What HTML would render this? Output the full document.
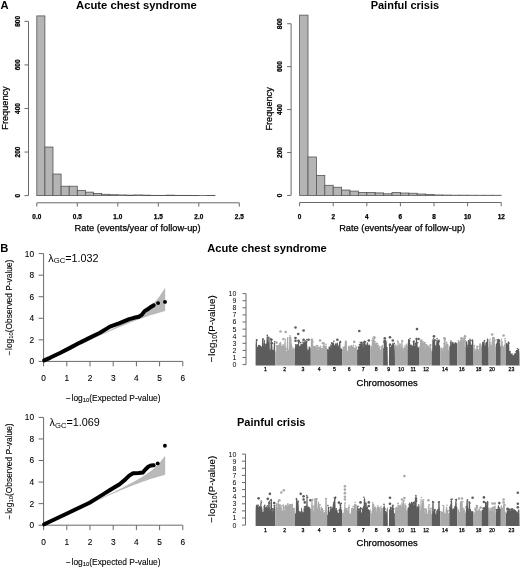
<!DOCTYPE html>
<html><head><meta charset="utf-8"><style>
html,body{margin:0;padding:0;background:#fff;}
svg{display:block;filter:grayscale(1) blur(0.3px);}
text{font-family:"Liberation Sans", sans-serif;}
</style></head><body>
<svg width="520" height="567" viewBox="0 0 520 567" font-family='"Liberation Sans", sans-serif'>
<rect width="520" height="567" fill="#fff"/>
<text x="0.60" y="9.20" font-size="11.2" font-weight="bold" text-anchor="start" fill="#000">A</text>
<text x="136.40" y="8.60" font-size="11.25" font-weight="bold" text-anchor="middle" fill="#000">Acute chest syndrome</text>
<path d="M28.5,21.36V195.60" stroke="#6a6a6a" stroke-width="1.0" fill="none"/>
<path d="M24.5,195.60H28.5" stroke="#6a6a6a" stroke-width="1.0"/>
<text transform="translate(19.80,195.60) rotate(-90)" font-size="6.5" font-weight="bold" text-anchor="middle" fill="#000" stroke="#000" stroke-width="0.25">0</text>
<path d="M24.5,152.04H28.5" stroke="#6a6a6a" stroke-width="1.0"/>
<text transform="translate(19.80,152.04) rotate(-90)" font-size="6.5" font-weight="bold" text-anchor="middle" fill="#000" stroke="#000" stroke-width="0.25">200</text>
<path d="M24.5,108.48H28.5" stroke="#6a6a6a" stroke-width="1.0"/>
<text transform="translate(19.80,108.48) rotate(-90)" font-size="6.5" font-weight="bold" text-anchor="middle" fill="#000" stroke="#000" stroke-width="0.25">400</text>
<path d="M24.5,64.92H28.5" stroke="#6a6a6a" stroke-width="1.0"/>
<text transform="translate(19.80,64.92) rotate(-90)" font-size="6.5" font-weight="bold" text-anchor="middle" fill="#000" stroke="#000" stroke-width="0.25">600</text>
<path d="M24.5,21.36H28.5" stroke="#6a6a6a" stroke-width="1.0"/>
<text transform="translate(19.80,21.36) rotate(-90)" font-size="6.5" font-weight="bold" text-anchor="middle" fill="#000" stroke="#000" stroke-width="0.25">800</text>
<text transform="translate(8.20,108.00) rotate(-90)" font-size="9.2" text-anchor="middle" fill="#000" stroke="#000" stroke-width="0.25">Frequency</text>
<g fill="#b4b4b4" stroke="#555" stroke-width="0.8"><rect x="36.80" y="15.91" width="8.10" height="179.69"/><rect x="44.90" y="147.03" width="8.10" height="48.57"/><rect x="53.00" y="174.04" width="8.10" height="21.56"/><rect x="61.10" y="186.23" width="8.10" height="9.37"/><rect x="69.20" y="186.23" width="8.10" height="9.37"/><rect x="77.30" y="190.37" width="8.10" height="5.23"/><rect x="85.40" y="192.12" width="8.10" height="3.48"/><rect x="93.50" y="193.42" width="8.10" height="2.18"/><rect x="101.60" y="194.29" width="8.10" height="1.31"/><rect x="109.70" y="194.73" width="8.10" height="0.87"/><rect x="117.80" y="194.95" width="8.10" height="0.65"/><rect x="125.90" y="195.16" width="8.10" height="0.44"/><rect x="134.00" y="194.95" width="8.10" height="0.65"/><rect x="142.10" y="195.16" width="8.10" height="0.44"/><rect x="150.20" y="195.38" width="8.10" height="0.22"/><rect x="158.30" y="195.38" width="8.10" height="0.22"/><rect x="166.40" y="195.16" width="8.10" height="0.44"/><rect x="174.50" y="195.38" width="8.10" height="0.22"/><rect x="182.60" y="195.38" width="8.10" height="0.22"/><rect x="190.70" y="195.47" width="8.10" height="0.13"/><rect x="198.80" y="195.43" width="8.10" height="0.17"/><rect x="206.90" y="195.47" width="8.10" height="0.13"/></g>
<path d="M36.80,202.8H239.30" stroke="#6a6a6a" stroke-width="1.0"/>
<path d="M36.80,202.8V206.60000000000002" stroke="#6a6a6a" stroke-width="1.0"/>
<text x="36.80" y="218.50" font-size="6.4" font-weight="bold" text-anchor="middle" fill="#000" stroke="#000" stroke-width="0.25">0.0</text>
<path d="M77.30,202.8V206.60000000000002" stroke="#6a6a6a" stroke-width="1.0"/>
<text x="77.30" y="218.50" font-size="6.4" font-weight="bold" text-anchor="middle" fill="#000" stroke="#000" stroke-width="0.25">0.5</text>
<path d="M117.80,202.8V206.60000000000002" stroke="#6a6a6a" stroke-width="1.0"/>
<text x="117.80" y="218.50" font-size="6.4" font-weight="bold" text-anchor="middle" fill="#000" stroke="#000" stroke-width="0.25">1.0</text>
<path d="M158.30,202.8V206.60000000000002" stroke="#6a6a6a" stroke-width="1.0"/>
<text x="158.30" y="218.50" font-size="6.4" font-weight="bold" text-anchor="middle" fill="#000" stroke="#000" stroke-width="0.25">1.5</text>
<path d="M198.80,202.8V206.60000000000002" stroke="#6a6a6a" stroke-width="1.0"/>
<text x="198.80" y="218.50" font-size="6.4" font-weight="bold" text-anchor="middle" fill="#000" stroke="#000" stroke-width="0.25">2.0</text>
<path d="M239.30,202.8V206.60000000000002" stroke="#6a6a6a" stroke-width="1.0"/>
<text x="239.30" y="218.50" font-size="6.4" font-weight="bold" text-anchor="middle" fill="#000" stroke="#000" stroke-width="0.25">2.5</text>
<text x="74.60" y="231.20" font-size="9.25" text-anchor="start" fill="#000" stroke="#000" stroke-width="0.25">Rate (events/year of follow-up)</text>
<text x="404.90" y="8.60" font-size="11.0" font-weight="bold" text-anchor="middle" fill="#000">Painful crisis</text>
<path d="M291.1,23.72V195.40" stroke="#6a6a6a" stroke-width="1.0" fill="none"/>
<path d="M287.1,195.40H291.1" stroke="#6a6a6a" stroke-width="1.0"/>
<text transform="translate(282.20,195.40) rotate(-90)" font-size="6.5" font-weight="bold" text-anchor="middle" fill="#000" stroke="#000" stroke-width="0.25">0</text>
<path d="M287.1,152.48H291.1" stroke="#6a6a6a" stroke-width="1.0"/>
<text transform="translate(282.20,152.48) rotate(-90)" font-size="6.5" font-weight="bold" text-anchor="middle" fill="#000" stroke="#000" stroke-width="0.25">200</text>
<path d="M287.1,109.56H291.1" stroke="#6a6a6a" stroke-width="1.0"/>
<text transform="translate(282.20,109.56) rotate(-90)" font-size="6.5" font-weight="bold" text-anchor="middle" fill="#000" stroke="#000" stroke-width="0.25">400</text>
<path d="M287.1,66.64H291.1" stroke="#6a6a6a" stroke-width="1.0"/>
<text transform="translate(282.20,66.64) rotate(-90)" font-size="6.5" font-weight="bold" text-anchor="middle" fill="#000" stroke="#000" stroke-width="0.25">600</text>
<path d="M287.1,23.72H291.1" stroke="#6a6a6a" stroke-width="1.0"/>
<text transform="translate(282.20,23.72) rotate(-90)" font-size="6.5" font-weight="bold" text-anchor="middle" fill="#000" stroke="#000" stroke-width="0.25">800</text>
<text transform="translate(272.20,108.90) rotate(-90)" font-size="9.2" text-anchor="middle" fill="#000" stroke="#000" stroke-width="0.25">Frequency</text>
<g fill="#b4b4b4" stroke="#555" stroke-width="0.8"><rect x="299.60" y="15.14" width="8.40" height="180.26"/><rect x="308.00" y="156.99" width="8.40" height="38.41"/><rect x="316.40" y="175.44" width="8.40" height="19.96"/><rect x="324.80" y="185.31" width="8.40" height="10.09"/><rect x="333.20" y="187.25" width="8.40" height="8.15"/><rect x="341.60" y="190.03" width="8.40" height="5.37"/><rect x="350.00" y="191.11" width="8.40" height="4.29"/><rect x="358.40" y="192.40" width="8.40" height="3.00"/><rect x="366.80" y="192.50" width="8.40" height="2.90"/><rect x="375.20" y="192.91" width="8.40" height="2.49"/><rect x="383.60" y="193.79" width="8.40" height="1.61"/><rect x="392.00" y="192.50" width="8.40" height="2.90"/><rect x="400.40" y="193.04" width="8.40" height="2.36"/><rect x="408.80" y="193.25" width="8.40" height="2.15"/><rect x="417.20" y="194.01" width="8.40" height="1.39"/><rect x="425.60" y="194.54" width="8.40" height="0.86"/><rect x="434.00" y="194.97" width="8.40" height="0.43"/><rect x="442.40" y="195.08" width="8.40" height="0.32"/><rect x="450.80" y="195.19" width="8.40" height="0.21"/><rect x="459.20" y="195.19" width="8.40" height="0.21"/><rect x="467.60" y="195.23" width="8.40" height="0.17"/><rect x="476.00" y="195.27" width="8.40" height="0.13"/><rect x="484.40" y="195.27" width="8.40" height="0.13"/><rect x="492.80" y="195.27" width="8.40" height="0.13"/></g>
<path d="M299.60,202.5H501.20" stroke="#6a6a6a" stroke-width="1.0"/>
<path d="M299.60,202.5V206.3" stroke="#6a6a6a" stroke-width="1.0"/>
<text x="299.60" y="218.50" font-size="6.4" font-weight="bold" text-anchor="middle" fill="#000" stroke="#000" stroke-width="0.25">0</text>
<path d="M333.20,202.5V206.3" stroke="#6a6a6a" stroke-width="1.0"/>
<text x="333.20" y="218.50" font-size="6.4" font-weight="bold" text-anchor="middle" fill="#000" stroke="#000" stroke-width="0.25">2</text>
<path d="M366.80,202.5V206.3" stroke="#6a6a6a" stroke-width="1.0"/>
<text x="366.80" y="218.50" font-size="6.4" font-weight="bold" text-anchor="middle" fill="#000" stroke="#000" stroke-width="0.25">4</text>
<path d="M400.40,202.5V206.3" stroke="#6a6a6a" stroke-width="1.0"/>
<text x="400.40" y="218.50" font-size="6.4" font-weight="bold" text-anchor="middle" fill="#000" stroke="#000" stroke-width="0.25">6</text>
<path d="M434.00,202.5V206.3" stroke="#6a6a6a" stroke-width="1.0"/>
<text x="434.00" y="218.50" font-size="6.4" font-weight="bold" text-anchor="middle" fill="#000" stroke="#000" stroke-width="0.25">8</text>
<path d="M467.60,202.5V206.3" stroke="#6a6a6a" stroke-width="1.0"/>
<text x="467.60" y="218.50" font-size="6.4" font-weight="bold" text-anchor="middle" fill="#000" stroke="#000" stroke-width="0.25">10</text>
<path d="M501.20,202.5V206.3" stroke="#6a6a6a" stroke-width="1.0"/>
<text x="501.20" y="218.50" font-size="6.4" font-weight="bold" text-anchor="middle" fill="#000" stroke="#000" stroke-width="0.25">12</text>
<text x="339.20" y="231.20" font-size="9.25" text-anchor="start" fill="#000" stroke="#000" stroke-width="0.25">Rate (events/year of follow-up)</text>
<text x="0.20" y="252.00" font-size="11.2" font-weight="bold" text-anchor="start" fill="#000">B</text>
<path d="M165.18,287.70L158.20,298.27L154.11,302.66L151.21,305.31L148.96,307.18L147.13,308.60L145.57,309.75L144.23,310.71L143.04,311.53L141.98,312.25L141.02,312.88L140.14,313.45L139.34,313.96L138.59,314.44L137.90,314.87L137.25,315.27L136.63,315.64L136.06,315.99L135.51,316.32L135.00,316.62L134.51,316.92L134.04,317.19L133.59,317.45L133.16,317.70L132.75,317.94L132.35,318.17L131.97,318.38L131.61,318.59L131.25,318.79L130.91,318.99L130.58,319.17L130.26,319.35L129.95,319.53L129.65,319.70L129.36,319.86L128.80,320.17L128.53,320.32L128.27,320.46L128.01,320.60L127.76,320.74L127.28,321.00L127.05,321.13L126.83,321.25L126.39,321.49L126.18,321.60L125.97,321.72L125.57,321.93L125.18,322.14L124.99,322.24L124.62,322.44L124.27,322.63L124.10,322.72L123.76,322.90L123.44,323.07L123.12,323.24L122.82,323.40L122.52,323.55L122.23,323.71L121.95,323.85L121.55,324.07L121.28,324.20L121.03,324.34L120.66,324.53L120.42,324.65L120.07,324.84L119.73,325.01L119.51,325.12L119.19,325.29L118.88,325.45L118.58,325.60L118.29,325.75L117.91,325.95L117.64,326.09L117.37,326.22L117.03,326.40L116.70,326.57L116.45,326.69L116.14,326.85L115.83,327.01L115.54,327.16L115.18,327.34L114.90,327.48L114.63,327.62L114.30,327.78L113.98,327.94L113.67,328.10L113.38,328.25L113.08,328.40L112.75,328.56L112.47,328.70L112.16,328.86L111.85,329.01L111.55,329.16L111.26,329.31L110.93,329.47L110.66,329.61L110.35,329.76L110.04,329.91L109.71,330.08L109.43,330.22L109.11,330.37L108.81,330.52L108.52,330.67L108.19,330.83L107.88,330.98L107.58,331.13L107.28,331.28L106.97,331.43L106.69,331.57L106.36,331.73L106.07,331.87L105.76,332.02L105.46,332.17L105.15,332.32L104.84,332.47L104.54,332.62L104.25,332.76L103.94,332.91L103.63,333.07L103.32,333.22L103.02,333.36L102.71,333.51L102.40,333.66L102.11,333.80L101.81,333.95L101.50,334.10L101.19,334.25L100.88,334.40L100.58,334.55L100.28,334.69L99.97,334.84L99.66,334.99L99.36,335.13L99.06,335.28L98.75,335.43L98.45,335.57L98.15,335.72L97.84,335.87L97.53,336.02L97.23,336.16L96.93,336.31L96.62,336.45L96.31,336.60L96.01,336.75L95.70,336.89L95.40,337.04L95.10,337.18L94.80,337.33L94.48,337.48L94.18,337.62L93.88,337.77L93.57,337.92L93.27,338.06L92.96,338.21L92.66,338.35L92.36,338.49L92.05,338.64L91.75,338.79L91.44,338.93L91.13,339.08L90.83,339.22L90.52,339.37L90.22,339.51L89.92,339.66L89.61,339.80L89.31,339.95L89.00,340.09L88.70,340.24L88.39,340.38L88.09,340.53L87.78,340.67L87.48,340.82L87.18,340.96L86.87,341.11L86.56,341.25L86.26,341.39L85.95,341.54L85.65,341.68L85.34,341.83L85.04,341.97L84.74,342.12L84.43,342.26L84.13,342.40L83.82,342.55L83.52,342.69L83.21,342.84L82.91,342.98L82.60,343.13L82.30,343.27L81.99,343.41L81.69,343.56L81.38,343.70L81.08,343.84L80.77,343.99L80.47,344.13L80.17,344.28L79.86,344.42L79.56,344.56L79.25,344.71L78.95,344.85L78.64,344.99L78.34,345.14L78.03,345.28L77.73,345.42L77.42,345.57L77.12,345.71L76.81,345.85L76.51,346.00L76.20,346.14L75.90,346.28L75.59,346.43L75.29,346.57L74.99,346.71L74.68,346.86L74.38,347.00L74.07,347.14L73.77,347.29L73.46,347.43L73.16,347.57L72.85,347.72L72.55,347.86L72.24,348.00L71.94,348.15L71.63,348.29L71.33,348.43L71.02,348.57L70.72,348.72L70.41,348.86L70.11,349.00L69.81,349.15L69.50,349.29L69.20,349.43L68.89,349.57L68.59,349.72L68.28,349.86L67.98,350.00L67.67,350.15L67.37,350.29L67.06,350.43L66.76,350.57L66.45,350.72L66.15,350.86L65.84,351.00L65.54,351.14L65.23,351.29L64.93,351.43L64.63,351.57L64.32,351.71L64.02,351.86L63.71,352.00L63.41,352.14L63.10,352.28L62.80,352.43L62.49,352.57L62.19,352.71L61.88,352.85L61.58,353.00L61.27,353.14L60.97,353.28L60.66,353.42L60.36,353.57L60.05,353.71L59.75,353.85L59.45,353.99L59.14,354.14L58.84,354.28L58.53,354.42L58.23,354.56L57.92,354.71L57.62,354.85L57.31,354.99L57.01,355.13L56.70,355.28L56.40,355.42L56.09,355.56L55.79,355.70L55.48,355.84L55.18,355.99L54.87,356.13L54.57,356.27L54.27,356.41L53.96,356.56L53.66,356.70L53.35,356.84L53.05,356.98L52.74,357.13L52.44,357.27L52.13,357.41L51.83,357.55L51.52,357.69L51.22,357.84L50.91,357.98L50.61,358.12L50.30,358.26L50.00,358.41L49.69,358.55L49.39,358.69L49.08,358.83L48.78,358.97L48.48,359.12L48.17,359.26L47.87,359.40L47.56,359.54L47.26,359.69L46.95,359.83L46.65,359.97L46.34,360.11L46.04,360.26L45.73,360.40L45.43,360.54L45.12,360.68L44.82,360.83L44.51,360.97L44.21,361.11L43.90,361.25L43.60,361.40L43.60,361.40L43.90,361.26L44.21,361.12L44.51,360.98L44.82,360.84L45.12,360.70L45.43,360.56L45.73,360.42L46.04,360.28L46.34,360.14L46.65,360.00L46.95,359.86L47.26,359.72L47.56,359.57L47.87,359.43L48.17,359.29L48.48,359.15L48.78,359.01L49.08,358.87L49.39,358.73L49.69,358.59L50.00,358.45L50.30,358.31L50.61,358.17L50.91,358.02L51.22,357.88L51.52,357.74L51.83,357.60L52.13,357.46L52.44,357.32L52.74,357.18L53.05,357.04L53.35,356.90L53.66,356.76L53.96,356.62L54.27,356.47L54.57,356.33L54.87,356.19L55.18,356.05L55.48,355.91L55.79,355.77L56.09,355.63L56.40,355.49L56.70,355.35L57.01,355.21L57.31,355.07L57.62,354.93L57.92,354.78L58.23,354.64L58.53,354.50L58.84,354.36L59.14,354.22L59.45,354.08L59.75,353.94L60.05,353.80L60.36,353.66L60.66,353.52L60.97,353.38L61.27,353.24L61.58,353.10L61.88,352.95L62.19,352.81L62.49,352.67L62.80,352.53L63.10,352.39L63.41,352.25L63.71,352.11L64.02,351.97L64.32,351.83L64.63,351.69L64.93,351.55L65.23,351.41L65.54,351.27L65.84,351.13L66.15,350.99L66.45,350.85L66.76,350.70L67.06,350.56L67.37,350.42L67.67,350.28L67.98,350.14L68.28,350.00L68.59,349.86L68.89,349.72L69.20,349.58L69.50,349.44L69.81,349.30L70.11,349.16L70.41,349.02L70.72,348.88L71.02,348.74L71.33,348.60L71.63,348.46L71.94,348.32L72.24,348.18L72.55,348.04L72.85,347.90L73.16,347.76L73.46,347.62L73.77,347.48L74.07,347.34L74.38,347.20L74.68,347.06L74.99,346.92L75.29,346.78L75.59,346.64L75.90,346.50L76.20,346.36L76.51,346.22L76.81,346.08L77.12,345.94L77.42,345.80L77.73,345.66L78.03,345.52L78.34,345.38L78.64,345.24L78.95,345.10L79.25,344.96L79.56,344.82L79.86,344.68L80.17,344.54L80.47,344.40L80.77,344.26L81.08,344.12L81.38,343.98L81.69,343.84L81.99,343.71L82.30,343.57L82.60,343.43L82.91,343.29L83.21,343.15L83.52,343.01L83.82,342.87L84.13,342.73L84.43,342.59L84.74,342.45L85.04,342.31L85.34,342.17L85.65,342.03L85.95,341.90L86.26,341.76L86.56,341.62L86.87,341.48L87.18,341.34L87.48,341.20L87.78,341.06L88.09,340.93L88.39,340.79L88.70,340.65L89.00,340.51L89.31,340.37L89.61,340.23L89.92,340.09L90.22,339.96L90.52,339.82L90.83,339.68L91.13,339.54L91.44,339.40L91.75,339.26L92.05,339.13L92.36,338.99L92.66,338.85L92.96,338.71L93.27,338.58L93.57,338.44L93.88,338.30L94.18,338.16L94.48,338.03L94.80,337.89L95.10,337.75L95.40,337.61L95.70,337.48L96.01,337.34L96.31,337.20L96.62,337.06L96.93,336.93L97.23,336.79L97.53,336.65L97.84,336.51L98.15,336.38L98.45,336.24L98.75,336.11L99.06,335.97L99.36,335.83L99.66,335.70L99.97,335.56L100.28,335.42L100.58,335.29L100.88,335.15L101.19,335.01L101.50,334.88L101.81,334.74L102.11,334.60L102.40,334.47L102.71,334.34L103.02,334.20L103.32,334.07L103.63,333.93L103.94,333.79L104.25,333.65L104.54,333.53L104.84,333.39L105.15,333.26L105.46,333.12L105.76,332.98L106.07,332.85L106.36,332.72L106.69,332.57L106.97,332.45L107.28,332.31L107.58,332.18L107.88,332.05L108.19,331.91L108.52,331.77L108.81,331.64L109.11,331.51L109.43,331.37L109.71,331.25L110.04,331.10L110.35,330.97L110.66,330.84L110.93,330.72L111.26,330.57L111.55,330.45L111.85,330.32L112.16,330.18L112.47,330.04L112.75,329.93L113.08,329.78L113.38,329.65L113.67,329.53L113.98,329.39L114.30,329.25L114.63,329.11L114.90,329.00L115.18,328.88L115.54,328.72L115.83,328.60L116.14,328.47L116.45,328.33L116.70,328.23L117.03,328.09L117.37,327.94L117.64,327.83L117.91,327.71L118.29,327.55L118.58,327.43L118.88,327.30L119.19,327.17L119.51,327.03L119.73,326.94L120.07,326.80L120.42,326.65L120.66,326.55L121.03,326.39L121.28,326.29L121.55,326.18L121.95,326.01L122.23,325.89L122.52,325.77L122.82,325.65L123.12,325.52L123.44,325.39L123.76,325.26L124.10,325.12L124.27,325.05L124.62,324.90L124.99,324.75L125.18,324.67L125.57,324.52L125.97,324.35L126.18,324.27L126.39,324.18L126.83,324.00L127.05,323.91L127.28,323.82L127.76,323.62L128.01,323.52L128.27,323.42L128.53,323.31L128.80,323.21L129.36,322.98L129.65,322.87L129.95,322.75L130.26,322.62L130.58,322.50L130.91,322.37L131.25,322.23L131.61,322.09L131.97,321.95L132.35,321.80L132.75,321.65L133.16,321.49L133.59,321.32L134.04,321.15L134.51,320.97L135.00,320.78L135.51,320.58L136.06,320.37L136.63,320.16L137.25,319.93L137.90,319.68L138.59,319.43L139.34,319.15L140.14,318.86L141.02,318.54L141.98,318.19L143.04,317.82L144.23,317.40L145.57,316.94L147.13,316.41L148.96,315.80L151.21,315.07L154.11,314.16L158.20,312.95L165.18,311.02Z" fill="#b9b9b9"/>
<path d="M43.6,253.60V361.40H182.80" stroke="#6a6a6a" stroke-width="1.0" fill="none"/>
<path d="M38.6,361.40H43.6" stroke="#6a6a6a" stroke-width="1.0"/>
<text x="34.00" y="364.30" font-size="8.3" text-anchor="end" fill="#000" stroke="#000" stroke-width="0.1">0</text>
<path d="M38.6,339.84H43.6" stroke="#6a6a6a" stroke-width="1.0"/>
<text x="34.00" y="342.74" font-size="8.3" text-anchor="end" fill="#000" stroke="#000" stroke-width="0.1">2</text>
<path d="M38.6,318.28H43.6" stroke="#6a6a6a" stroke-width="1.0"/>
<text x="34.00" y="321.18" font-size="8.3" text-anchor="end" fill="#000" stroke="#000" stroke-width="0.1">4</text>
<path d="M38.6,296.72H43.6" stroke="#6a6a6a" stroke-width="1.0"/>
<text x="34.00" y="299.62" font-size="8.3" text-anchor="end" fill="#000" stroke="#000" stroke-width="0.1">6</text>
<path d="M38.6,275.16H43.6" stroke="#6a6a6a" stroke-width="1.0"/>
<text x="34.00" y="278.06" font-size="8.3" text-anchor="end" fill="#000" stroke="#000" stroke-width="0.1">8</text>
<path d="M38.6,253.60H43.6" stroke="#6a6a6a" stroke-width="1.0"/>
<text x="34.00" y="256.50" font-size="8.3" text-anchor="end" fill="#000" stroke="#000" stroke-width="0.1">10</text>
<path d="M43.60,361.4V366.4" stroke="#6a6a6a" stroke-width="1.0"/>
<text x="43.60" y="380.90" font-size="8.3" text-anchor="middle" fill="#000" stroke="#000" stroke-width="0.1">0</text>
<path d="M66.80,361.4V366.4" stroke="#6a6a6a" stroke-width="1.0"/>
<text x="66.80" y="380.90" font-size="8.3" text-anchor="middle" fill="#000" stroke="#000" stroke-width="0.1">1</text>
<path d="M90.00,361.4V366.4" stroke="#6a6a6a" stroke-width="1.0"/>
<text x="90.00" y="380.90" font-size="8.3" text-anchor="middle" fill="#000" stroke="#000" stroke-width="0.1">2</text>
<path d="M113.20,361.4V366.4" stroke="#6a6a6a" stroke-width="1.0"/>
<text x="113.20" y="380.90" font-size="8.3" text-anchor="middle" fill="#000" stroke="#000" stroke-width="0.1">3</text>
<path d="M136.40,361.4V366.4" stroke="#6a6a6a" stroke-width="1.0"/>
<text x="136.40" y="380.90" font-size="8.3" text-anchor="middle" fill="#000" stroke="#000" stroke-width="0.1">4</text>
<path d="M159.60,361.4V366.4" stroke="#6a6a6a" stroke-width="1.0"/>
<text x="159.60" y="380.90" font-size="8.3" text-anchor="middle" fill="#000" stroke="#000" stroke-width="0.1">5</text>
<path d="M182.80,361.4V366.4" stroke="#6a6a6a" stroke-width="1.0"/>
<text x="182.80" y="380.90" font-size="8.3" text-anchor="middle" fill="#000" stroke="#000" stroke-width="0.1">6</text>
<text x="113.20" y="400.70" font-size="8.4" text-anchor="middle" fill="#000" stroke="#000" stroke-width="0.1">−<tspan dx="0.76">log</tspan><tspan font-size="5.88" dy="1.51">10</tspan><tspan dy="-1.51">(Expected P-value)</tspan></text>
<text transform="translate(11.60,307.60) rotate(-90)" font-size="8.4" text-anchor="middle" fill="#000" stroke="#000" stroke-width="0.1">−<tspan dx="0.76">log</tspan><tspan font-size="5.88" dy="1.51">10</tspan><tspan dy="-1.51">(Observed P-value)</tspan></text>
<text x="48.3" y="261.60" font-size="10.8" fill="#000">λ<tspan font-size="7.7" dy="1.7">GC</tspan><tspan dy="-1.7">=1.032</tspan></text>
<polyline points="44.20,360.40 50.00,357.80 60.00,353.00 70.00,347.90 80.00,342.60 90.00,337.60 100.00,332.70 110.00,326.60 119.60,323.10 129.20,319.20 134.00,317.80 138.80,316.80 141.70,314.90 144.60,311.10 148.50,308.70 151.30,306.70 153.75,305.30" fill="none" stroke="#000" stroke-width="4.0" stroke-linejoin="round" stroke-linecap="round"/>
<circle cx="158.10" cy="303.10" r="1.95" fill="#000"/>
<circle cx="165.00" cy="301.90" r="1.95" fill="#000"/>
<path d="M165.18,455.80L158.20,464.54L154.11,468.31L151.21,470.63L148.96,472.29L147.13,473.58L145.57,474.62L144.23,475.49L143.04,476.25L141.98,476.91L141.02,477.49L140.14,478.02L139.34,478.50L138.59,478.94L137.90,479.35L137.25,479.72L136.63,480.07L136.06,480.40L135.51,480.71L135.00,481.00L134.51,481.28L134.04,481.54L133.59,481.79L133.16,482.02L132.75,482.25L132.35,482.47L131.97,482.67L131.61,482.87L131.25,483.06L130.91,483.25L130.58,483.43L130.26,483.60L129.95,483.77L129.65,483.93L129.36,484.08L128.80,484.38L128.53,484.52L128.27,484.66L128.01,484.80L127.76,484.93L127.28,485.18L127.05,485.30L126.83,485.42L126.39,485.65L126.18,485.76L125.97,485.87L125.57,486.08L125.18,486.28L124.99,486.38L124.62,486.57L124.27,486.75L124.10,486.84L123.76,487.01L123.44,487.18L123.12,487.34L122.82,487.50L122.52,487.65L122.23,487.80L121.95,487.94L121.55,488.15L121.28,488.28L121.03,488.41L120.66,488.60L120.42,488.72L120.07,488.89L119.73,489.06L119.51,489.17L119.19,489.34L118.88,489.49L118.58,489.64L118.29,489.79L117.91,489.98L117.64,490.12L117.37,490.25L117.03,490.42L116.70,490.59L116.45,490.71L116.14,490.86L115.83,491.02L115.54,491.16L115.18,491.34L114.90,491.48L114.63,491.61L114.30,491.78L113.98,491.93L113.67,492.08L113.38,492.23L113.08,492.37L112.75,492.54L112.47,492.68L112.16,492.83L111.85,492.98L111.55,493.13L111.26,493.27L110.93,493.43L110.66,493.57L110.35,493.72L110.04,493.87L109.71,494.03L109.43,494.17L109.11,494.32L108.81,494.47L108.52,494.61L108.19,494.77L107.88,494.92L107.58,495.07L107.28,495.21L106.97,495.36L106.69,495.50L106.36,495.66L106.07,495.80L105.76,495.95L105.46,496.09L105.15,496.24L104.84,496.39L104.54,496.54L104.25,496.68L103.94,496.82L103.63,496.98L103.32,497.13L103.02,497.27L102.71,497.42L102.40,497.56L102.11,497.71L101.81,497.85L101.50,498.00L101.19,498.15L100.88,498.30L100.58,498.44L100.28,498.58L99.97,498.73L99.66,498.88L99.36,499.02L99.06,499.17L98.75,499.31L98.45,499.46L98.15,499.60L97.84,499.75L97.53,499.90L97.23,500.04L96.93,500.19L96.62,500.33L96.31,500.48L96.01,500.62L95.70,500.77L95.40,500.91L95.10,501.06L94.80,501.20L94.48,501.35L94.18,501.49L93.88,501.64L93.57,501.78L93.27,501.93L92.96,502.07L92.66,502.21L92.36,502.36L92.05,502.50L91.75,502.65L91.44,502.79L91.13,502.94L90.83,503.08L90.52,503.23L90.22,503.37L89.92,503.51L89.61,503.66L89.31,503.80L89.00,503.95L88.70,504.09L88.39,504.23L88.09,504.38L87.78,504.52L87.48,504.67L87.18,504.81L86.87,504.95L86.56,505.10L86.26,505.24L85.95,505.38L85.65,505.53L85.34,505.67L85.04,505.81L84.74,505.96L84.43,506.10L84.13,506.25L83.82,506.39L83.52,506.53L83.21,506.68L82.91,506.82L82.60,506.96L82.30,507.11L81.99,507.25L81.69,507.39L81.38,507.54L81.08,507.68L80.77,507.82L80.47,507.97L80.17,508.11L79.86,508.25L79.56,508.40L79.25,508.54L78.95,508.68L78.64,508.82L78.34,508.97L78.03,509.11L77.73,509.25L77.42,509.40L77.12,509.54L76.81,509.68L76.51,509.83L76.20,509.97L75.90,510.11L75.59,510.25L75.29,510.40L74.99,510.54L74.68,510.68L74.38,510.82L74.07,510.97L73.77,511.11L73.46,511.25L73.16,511.40L72.85,511.54L72.55,511.68L72.24,511.82L71.94,511.97L71.63,512.11L71.33,512.25L71.02,512.39L70.72,512.54L70.41,512.68L70.11,512.82L69.81,512.96L69.50,513.11L69.20,513.25L68.89,513.39L68.59,513.54L68.28,513.68L67.98,513.82L67.67,513.96L67.37,514.10L67.06,514.25L66.76,514.39L66.45,514.53L66.15,514.67L65.84,514.82L65.54,514.96L65.23,515.10L64.93,515.24L64.63,515.39L64.32,515.53L64.02,515.67L63.71,515.81L63.41,515.96L63.10,516.10L62.80,516.24L62.49,516.38L62.19,516.52L61.88,516.67L61.58,516.81L61.27,516.95L60.97,517.09L60.66,517.24L60.36,517.38L60.05,517.52L59.75,517.66L59.45,517.81L59.14,517.95L58.84,518.09L58.53,518.23L58.23,518.37L57.92,518.52L57.62,518.66L57.31,518.80L57.01,518.94L56.70,519.08L56.40,519.23L56.09,519.37L55.79,519.51L55.48,519.65L55.18,519.80L54.87,519.94L54.57,520.08L54.27,520.22L53.96,520.36L53.66,520.51L53.35,520.65L53.05,520.79L52.74,520.93L52.44,521.07L52.13,521.22L51.83,521.36L51.52,521.50L51.22,521.64L50.91,521.78L50.61,521.93L50.30,522.07L50.00,522.21L49.69,522.35L49.39,522.50L49.08,522.64L48.78,522.78L48.48,522.92L48.17,523.06L47.87,523.21L47.56,523.35L47.26,523.49L46.95,523.63L46.65,523.77L46.34,523.92L46.04,524.06L45.73,524.20L45.43,524.34L45.12,524.49L44.82,524.63L44.51,524.77L44.21,524.91L43.90,525.06L43.60,525.20L43.60,525.20L43.90,525.06L44.21,524.92L44.51,524.78L44.82,524.64L45.12,524.50L45.43,524.36L45.73,524.22L46.04,524.08L46.34,523.94L46.65,523.80L46.95,523.66L47.26,523.52L47.56,523.37L47.87,523.23L48.17,523.09L48.48,522.95L48.78,522.81L49.08,522.67L49.39,522.53L49.69,522.39L50.00,522.25L50.30,522.11L50.61,521.97L50.91,521.82L51.22,521.68L51.52,521.54L51.83,521.40L52.13,521.26L52.44,521.12L52.74,520.98L53.05,520.84L53.35,520.70L53.66,520.56L53.96,520.42L54.27,520.27L54.57,520.13L54.87,519.99L55.18,519.85L55.48,519.71L55.79,519.57L56.09,519.43L56.40,519.29L56.70,519.15L57.01,519.01L57.31,518.87L57.62,518.73L57.92,518.58L58.23,518.44L58.53,518.30L58.84,518.16L59.14,518.02L59.45,517.88L59.75,517.74L60.05,517.60L60.36,517.46L60.66,517.32L60.97,517.18L61.27,517.04L61.58,516.90L61.88,516.75L62.19,516.61L62.49,516.47L62.80,516.33L63.10,516.19L63.41,516.05L63.71,515.91L64.02,515.77L64.32,515.63L64.63,515.49L64.93,515.35L65.23,515.21L65.54,515.07L65.84,514.93L66.15,514.79L66.45,514.65L66.76,514.50L67.06,514.36L67.37,514.22L67.67,514.08L67.98,513.94L68.28,513.80L68.59,513.66L68.89,513.52L69.20,513.38L69.50,513.24L69.81,513.10L70.11,512.96L70.41,512.82L70.72,512.68L71.02,512.54L71.33,512.40L71.63,512.26L71.94,512.12L72.24,511.98L72.55,511.84L72.85,511.70L73.16,511.56L73.46,511.42L73.77,511.28L74.07,511.14L74.38,511.00L74.68,510.86L74.99,510.72L75.29,510.58L75.59,510.44L75.90,510.30L76.20,510.16L76.51,510.02L76.81,509.88L77.12,509.74L77.42,509.60L77.73,509.46L78.03,509.32L78.34,509.18L78.64,509.04L78.95,508.90L79.25,508.76L79.56,508.62L79.86,508.48L80.17,508.34L80.47,508.20L80.77,508.06L81.08,507.92L81.38,507.78L81.69,507.64L81.99,507.51L82.30,507.37L82.60,507.23L82.91,507.09L83.21,506.95L83.52,506.81L83.82,506.67L84.13,506.53L84.43,506.39L84.74,506.25L85.04,506.11L85.34,505.97L85.65,505.83L85.95,505.70L86.26,505.56L86.56,505.42L86.87,505.28L87.18,505.14L87.48,505.00L87.78,504.86L88.09,504.73L88.39,504.59L88.70,504.45L89.00,504.31L89.31,504.17L89.61,504.03L89.92,503.89L90.22,503.76L90.52,503.62L90.83,503.48L91.13,503.34L91.44,503.20L91.75,503.06L92.05,502.93L92.36,502.79L92.66,502.65L92.96,502.51L93.27,502.38L93.57,502.24L93.88,502.10L94.18,501.96L94.48,501.83L94.80,501.69L95.10,501.55L95.40,501.41L95.70,501.28L96.01,501.14L96.31,501.00L96.62,500.86L96.93,500.73L97.23,500.59L97.53,500.45L97.84,500.31L98.15,500.18L98.45,500.04L98.75,499.91L99.06,499.77L99.36,499.63L99.66,499.50L99.97,499.36L100.28,499.22L100.58,499.09L100.88,498.95L101.19,498.81L101.50,498.68L101.81,498.54L102.11,498.40L102.40,498.27L102.71,498.14L103.02,498.00L103.32,497.87L103.63,497.73L103.94,497.59L104.25,497.45L104.54,497.33L104.84,497.19L105.15,497.06L105.46,496.92L105.76,496.78L106.07,496.65L106.36,496.52L106.69,496.37L106.97,496.25L107.28,496.11L107.58,495.98L107.88,495.85L108.19,495.71L108.52,495.57L108.81,495.44L109.11,495.31L109.43,495.17L109.71,495.05L110.04,494.90L110.35,494.77L110.66,494.64L110.93,494.52L111.26,494.37L111.55,494.25L111.85,494.12L112.16,493.98L112.47,493.84L112.75,493.73L113.08,493.58L113.38,493.45L113.67,493.33L113.98,493.19L114.30,493.05L114.63,492.91L114.90,492.80L115.18,492.68L115.54,492.52L115.83,492.40L116.14,492.27L116.45,492.13L116.70,492.03L117.03,491.89L117.37,491.74L117.64,491.63L117.91,491.51L118.29,491.35L118.58,491.23L118.88,491.10L119.19,490.97L119.51,490.83L119.73,490.74L120.07,490.60L120.42,490.45L120.66,490.35L121.03,490.19L121.28,490.09L121.55,489.98L121.95,489.81L122.23,489.69L122.52,489.57L122.82,489.45L123.12,489.32L123.44,489.19L123.76,489.06L124.10,488.92L124.27,488.85L124.62,488.70L124.99,488.55L125.18,488.47L125.57,488.32L125.97,488.15L126.18,488.07L126.39,487.98L126.83,487.80L127.05,487.71L127.28,487.62L127.76,487.42L128.01,487.32L128.27,487.22L128.53,487.11L128.80,487.01L129.36,486.78L129.65,486.67L129.95,486.55L130.26,486.42L130.58,486.30L130.91,486.17L131.25,486.03L131.61,485.89L131.97,485.75L132.35,485.60L132.75,485.45L133.16,485.29L133.59,485.12L134.04,484.95L134.51,484.77L135.00,484.58L135.51,484.38L136.06,484.17L136.63,483.96L137.25,483.73L137.90,483.48L138.59,483.23L139.34,482.95L140.14,482.66L141.02,482.34L141.98,481.99L143.04,481.62L144.23,481.20L145.57,480.74L147.13,480.21L148.96,479.60L151.21,478.87L154.11,477.96L158.20,476.75L165.18,474.82Z" fill="#b9b9b9"/>
<path d="M43.6,417.40V525.20H182.80" stroke="#6a6a6a" stroke-width="1.0" fill="none"/>
<path d="M38.6,525.20H43.6" stroke="#6a6a6a" stroke-width="1.0"/>
<text x="34.00" y="528.10" font-size="8.3" text-anchor="end" fill="#000" stroke="#000" stroke-width="0.1">0</text>
<path d="M38.6,503.64H43.6" stroke="#6a6a6a" stroke-width="1.0"/>
<text x="34.00" y="506.54" font-size="8.3" text-anchor="end" fill="#000" stroke="#000" stroke-width="0.1">2</text>
<path d="M38.6,482.08H43.6" stroke="#6a6a6a" stroke-width="1.0"/>
<text x="34.00" y="484.98" font-size="8.3" text-anchor="end" fill="#000" stroke="#000" stroke-width="0.1">4</text>
<path d="M38.6,460.52H43.6" stroke="#6a6a6a" stroke-width="1.0"/>
<text x="34.00" y="463.42" font-size="8.3" text-anchor="end" fill="#000" stroke="#000" stroke-width="0.1">6</text>
<path d="M38.6,438.96H43.6" stroke="#6a6a6a" stroke-width="1.0"/>
<text x="34.00" y="441.86" font-size="8.3" text-anchor="end" fill="#000" stroke="#000" stroke-width="0.1">8</text>
<path d="M38.6,417.40H43.6" stroke="#6a6a6a" stroke-width="1.0"/>
<text x="34.00" y="420.30" font-size="8.3" text-anchor="end" fill="#000" stroke="#000" stroke-width="0.1">10</text>
<path d="M43.60,525.2V530.2" stroke="#6a6a6a" stroke-width="1.0"/>
<text x="43.60" y="544.70" font-size="8.3" text-anchor="middle" fill="#000" stroke="#000" stroke-width="0.1">0</text>
<path d="M66.80,525.2V530.2" stroke="#6a6a6a" stroke-width="1.0"/>
<text x="66.80" y="544.70" font-size="8.3" text-anchor="middle" fill="#000" stroke="#000" stroke-width="0.1">1</text>
<path d="M90.00,525.2V530.2" stroke="#6a6a6a" stroke-width="1.0"/>
<text x="90.00" y="544.70" font-size="8.3" text-anchor="middle" fill="#000" stroke="#000" stroke-width="0.1">2</text>
<path d="M113.20,525.2V530.2" stroke="#6a6a6a" stroke-width="1.0"/>
<text x="113.20" y="544.70" font-size="8.3" text-anchor="middle" fill="#000" stroke="#000" stroke-width="0.1">3</text>
<path d="M136.40,525.2V530.2" stroke="#6a6a6a" stroke-width="1.0"/>
<text x="136.40" y="544.70" font-size="8.3" text-anchor="middle" fill="#000" stroke="#000" stroke-width="0.1">4</text>
<path d="M159.60,525.2V530.2" stroke="#6a6a6a" stroke-width="1.0"/>
<text x="159.60" y="544.70" font-size="8.3" text-anchor="middle" fill="#000" stroke="#000" stroke-width="0.1">5</text>
<path d="M182.80,525.2V530.2" stroke="#6a6a6a" stroke-width="1.0"/>
<text x="182.80" y="544.70" font-size="8.3" text-anchor="middle" fill="#000" stroke="#000" stroke-width="0.1">6</text>
<text x="113.20" y="564.50" font-size="8.4" text-anchor="middle" fill="#000" stroke="#000" stroke-width="0.1">−<tspan dx="0.76">log</tspan><tspan font-size="5.88" dy="1.51">10</tspan><tspan dy="-1.51">(Expected P-value)</tspan></text>
<text transform="translate(11.60,471.40) rotate(-90)" font-size="8.4" text-anchor="middle" fill="#000" stroke="#000" stroke-width="0.1">−<tspan dx="0.76">log</tspan><tspan font-size="5.88" dy="1.51">10</tspan><tspan dy="-1.51">(Observed P-value)</tspan></text>
<text x="49.6" y="426.40" font-size="10.8" fill="#000">λ<tspan font-size="7.7" dy="1.7">GC</tspan><tspan dy="-1.7">=1.069</tspan></text>
<polyline points="44.20,524.30 66.50,513.70 89.60,502.70 95.00,499.40 102.70,494.60 110.00,490.00 119.60,484.20 125.40,479.40 129.20,475.60 133.10,473.20 138.80,473.10 142.70,472.60 145.60,469.30 148.50,466.50 151.30,465.40 153.75,465.30" fill="none" stroke="#000" stroke-width="4.0" stroke-linejoin="round" stroke-linecap="round"/>
<circle cx="157.70" cy="463.40" r="1.95" fill="#000"/>
<circle cx="164.90" cy="445.80" r="1.95" fill="#000"/>
<text x="207.30" y="251.60" font-size="11.15" font-weight="bold" text-anchor="start" fill="#000">Acute chest syndrome</text>
<path d="M246.0,293.60V364.60" stroke="#6a6a6a" stroke-width="1.0" fill="none"/>
<path d="M242.5,364.60H246.0" stroke="#6a6a6a" stroke-width="1.0"/>
<text x="236.40" y="367.05" font-size="7.0" text-anchor="end" fill="#000">0</text>
<path d="M242.5,357.50H246.0" stroke="#6a6a6a" stroke-width="1.0"/>
<text x="236.40" y="359.95" font-size="7.0" text-anchor="end" fill="#000">1</text>
<path d="M242.5,350.40H246.0" stroke="#6a6a6a" stroke-width="1.0"/>
<text x="236.40" y="352.85" font-size="7.0" text-anchor="end" fill="#000">2</text>
<path d="M242.5,343.30H246.0" stroke="#6a6a6a" stroke-width="1.0"/>
<text x="236.40" y="345.75" font-size="7.0" text-anchor="end" fill="#000">3</text>
<path d="M242.5,336.20H246.0" stroke="#6a6a6a" stroke-width="1.0"/>
<text x="236.40" y="338.65" font-size="7.0" text-anchor="end" fill="#000">4</text>
<path d="M242.5,329.10H246.0" stroke="#6a6a6a" stroke-width="1.0"/>
<text x="236.40" y="331.55" font-size="7.0" text-anchor="end" fill="#000">5</text>
<path d="M242.5,322.00H246.0" stroke="#6a6a6a" stroke-width="1.0"/>
<text x="236.40" y="324.45" font-size="7.0" text-anchor="end" fill="#000">6</text>
<path d="M242.5,314.90H246.0" stroke="#6a6a6a" stroke-width="1.0"/>
<text x="236.40" y="317.35" font-size="7.0" text-anchor="end" fill="#000">7</text>
<path d="M242.5,307.80H246.0" stroke="#6a6a6a" stroke-width="1.0"/>
<text x="236.40" y="310.25" font-size="7.0" text-anchor="end" fill="#000">8</text>
<path d="M242.5,300.70H246.0" stroke="#6a6a6a" stroke-width="1.0"/>
<text x="236.40" y="303.15" font-size="7.0" text-anchor="end" fill="#000">9</text>
<path d="M242.5,293.60H246.0" stroke="#6a6a6a" stroke-width="1.0"/>
<text x="236.40" y="296.05" font-size="7.0" text-anchor="end" fill="#000">10</text>
<text transform="translate(215.30,328.80) rotate(-90)" font-size="9.8" text-anchor="middle" fill="#000" stroke="#000" stroke-width="0.1">−<tspan dx="0.88">log</tspan><tspan font-size="6.86" dy="1.76">10</tspan><tspan dy="-1.76">(P-value)</tspan></text>
<polygon points="255.60,365.60 255.60,344.74 255.85,340.98 256.10,340.84 256.35,340.82 256.60,340.88 256.85,341.08 257.10,346.97 257.35,346.80 257.60,346.74 257.85,346.75 258.10,346.85 258.35,347.09 258.60,346.08 258.85,345.68 259.10,345.51 259.35,345.42 259.60,345.40 259.85,345.45 260.10,345.57 260.35,345.82 260.60,345.92 260.85,345.94 261.10,346.04 261.35,346.26 261.60,347.11 261.85,347.21 262.10,339.38 262.35,339.13 262.60,339.05 262.85,339.06 263.10,339.17 263.35,339.48 263.60,346.32 263.85,340.02 264.10,339.82 264.35,339.75 264.60,339.78 264.85,339.91 265.10,347.23 265.35,344.85 265.60,344.52 265.85,344.43 266.10,344.47 266.35,344.65 266.60,336.90 266.85,336.36 267.10,336.23 267.35,336.20 267.60,336.27 267.85,336.47 268.10,343.08 268.35,337.71 268.60,337.39 268.85,337.28 269.10,337.27 269.35,337.36 269.60,337.60 269.85,350.25 270.10,350.40 270.35,350.38 270.60,339.74 270.85,339.20 271.10,339.07 271.35,339.04 271.60,339.11 271.85,339.31 272.10,345.56 272.35,345.78 272.60,350.03 272.85,350.12 273.10,349.99 273.35,350.11 273.60,349.47 273.85,343.15 274.10,342.84 274.35,342.71 274.60,342.66 274.85,342.68 275.10,342.78 275.20,365.60" fill="#5c5c5c"/>
<g fill="#5c5c5c"><circle cx="270.0" cy="349.9" r="0.8"/><circle cx="260.1" cy="346.4" r="0.8"/><circle cx="256.5" cy="340.1" r="0.8"/><circle cx="274.6" cy="341.8" r="0.8"/><circle cx="271.8" cy="339.2" r="0.8"/><circle cx="271.0" cy="339.4" r="0.8"/><circle cx="262.9" cy="339.6" r="0.8"/><circle cx="256.7" cy="340.5" r="0.8"/><circle cx="263.0" cy="338.8" r="0.8"/><circle cx="258.5" cy="346.1" r="0.8"/><circle cx="266.5" cy="344.1" r="0.8"/><circle cx="270.8" cy="339.8" r="0.8"/><circle cx="272.0" cy="339.8" r="0.8"/><circle cx="267.3" cy="335.4" r="0.8"/><circle cx="270.6" cy="338.8" r="0.8"/><circle cx="257.6" cy="347.9" r="0.8"/><circle cx="266.1" cy="345.0" r="0.8"/><circle cx="265.9" cy="344.5" r="0.8"/><circle cx="256.8" cy="339.8" r="0.8"/><circle cx="268.6" cy="337.4" r="0.8"/><circle cx="259.1" cy="346.6" r="0.8"/><circle cx="259.0" cy="345.5" r="0.8"/><circle cx="258.8" cy="346.5" r="0.8"/></g>
<circle cx="271.90" cy="343.30" r="1.3" fill="#5c5c5c"/>
<polygon points="275.20,365.60 275.20,351.17 275.45,351.49 275.70,351.36 275.95,351.65 276.20,347.61 276.45,347.49 276.70,345.64 276.95,345.47 277.20,345.30 277.45,345.21 277.70,345.20 277.95,345.25 278.20,345.38 278.45,345.65 278.70,346.34 278.95,345.34 279.20,345.17 279.45,345.14 279.70,345.23 279.95,342.15 280.20,341.95 280.45,341.88 280.70,341.91 280.95,342.04 281.20,342.58 281.45,346.10 281.70,345.83 281.95,345.70 282.20,345.64 282.45,345.66 282.70,345.74 282.95,345.91 283.20,346.31 283.45,347.00 283.70,346.89 283.95,346.87 284.20,346.50 284.45,340.73 284.70,340.53 284.95,340.46 285.20,340.49 285.45,340.62 285.70,341.16 285.95,349.31 286.20,351.36 286.45,351.26 286.70,351.19 286.95,337.53 287.20,337.33 287.45,337.27 287.70,337.29 287.95,337.43 288.20,337.96 288.45,349.84 288.70,350.07 288.95,350.98 289.20,336.89 289.45,336.65 289.70,336.56 289.95,336.57 290.20,336.68 290.45,337.00 290.70,338.36 290.95,338.33 291.20,338.40 291.45,338.60 291.70,344.31 291.95,344.38 292.20,344.69 292.45,350.86 292.70,349.15 292.95,348.77 293.20,348.62 293.45,348.57 293.70,348.28 293.95,348.13 294.20,348.07 294.45,348.10 294.70,348.13 294.95,348.15 295.00,365.60" fill="#a9a9a9"/>
<g fill="#a9a9a9"><circle cx="282.3" cy="346.8" r="0.8"/><circle cx="279.0" cy="345.5" r="0.8"/><circle cx="276.5" cy="346.1" r="0.8"/><circle cx="279.7" cy="346.4" r="0.8"/><circle cx="289.3" cy="337.7" r="0.8"/><circle cx="276.7" cy="345.9" r="0.8"/><circle cx="284.0" cy="346.4" r="0.8"/><circle cx="289.0" cy="350.2" r="0.8"/><circle cx="285.4" cy="339.6" r="0.8"/><circle cx="283.1" cy="345.8" r="0.8"/><circle cx="278.7" cy="345.5" r="0.8"/><circle cx="283.6" cy="346.7" r="0.8"/><circle cx="290.7" cy="337.2" r="0.8"/><circle cx="286.3" cy="352.2" r="0.8"/><circle cx="279.5" cy="343.8" r="0.8"/><circle cx="283.1" cy="344.7" r="0.8"/><circle cx="286.1" cy="349.3" r="0.8"/><circle cx="278.2" cy="345.8" r="0.8"/><circle cx="286.2" cy="348.9" r="0.8"/><circle cx="292.9" cy="349.9" r="0.8"/><circle cx="279.9" cy="344.1" r="0.8"/><circle cx="292.8" cy="348.0" r="0.8"/><circle cx="289.9" cy="335.8" r="0.8"/></g>
<circle cx="280.50" cy="331.51" r="1.3" fill="#a9a9a9"/>
<circle cx="285.70" cy="331.94" r="1.3" fill="#a9a9a9"/>
<circle cx="283.40" cy="339.04" r="1.3" fill="#a9a9a9"/>
<circle cx="276.50" cy="342.59" r="1.3" fill="#a9a9a9"/>
<polygon points="295.00,365.60 295.00,345.43 295.25,345.55 295.50,345.75 295.75,344.90 296.00,344.72 296.25,344.69 296.50,344.80 296.75,345.63 297.00,345.06 297.25,344.85 297.50,344.39 297.75,344.26 298.00,344.74 298.25,342.88 298.50,342.78 298.75,342.80 299.00,342.98 299.25,346.06 299.50,346.14 299.75,346.25 300.00,346.32 300.25,345.52 300.50,343.92 300.75,343.74 301.00,343.67 301.25,343.69 301.50,343.81 301.75,344.12 302.00,344.41 302.25,344.15 302.50,343.75 302.75,343.64 303.00,343.66 303.25,343.69 303.50,343.66 303.75,343.73 304.00,342.31 304.25,341.77 304.50,341.57 304.75,341.48 305.00,341.45 305.25,341.48 305.50,341.59 305.75,341.81 306.00,341.15 306.25,340.89 306.50,340.82 306.75,340.87 307.00,341.10 307.25,346.37 307.50,350.17 307.75,350.59 308.00,350.35 308.25,350.13 308.50,350.36 308.75,347.25 309.00,347.14 309.25,347.13 309.50,347.24 309.75,347.48 310.00,347.51 310.25,347.61 310.50,347.82 310.75,349.20 310.80,365.60" fill="#5c5c5c"/>
<g fill="#5c5c5c"><circle cx="299.1" cy="341.5" r="0.8"/><circle cx="306.8" cy="341.9" r="0.8"/><circle cx="298.9" cy="341.7" r="0.8"/><circle cx="300.7" cy="342.6" r="0.8"/><circle cx="305.1" cy="340.9" r="0.8"/><circle cx="303.8" cy="344.7" r="0.8"/><circle cx="308.2" cy="351.3" r="0.8"/><circle cx="309.3" cy="347.2" r="0.8"/><circle cx="302.9" cy="342.1" r="0.8"/><circle cx="297.1" cy="344.9" r="0.8"/><circle cx="308.1" cy="350.0" r="0.8"/><circle cx="295.7" cy="344.7" r="0.8"/><circle cx="306.7" cy="339.7" r="0.8"/><circle cx="298.5" cy="342.0" r="0.8"/><circle cx="304.5" cy="342.5" r="0.8"/><circle cx="298.8" cy="342.9" r="0.8"/><circle cx="303.3" cy="343.3" r="0.8"/><circle cx="304.1" cy="343.0" r="0.8"/></g>
<circle cx="295.50" cy="327.54" r="1.3" fill="#5c5c5c"/>
<circle cx="303.60" cy="330.52" r="1.3" fill="#5c5c5c"/>
<circle cx="298.20" cy="334.07" r="1.3" fill="#5c5c5c"/>
<circle cx="295.50" cy="337.98" r="1.3" fill="#5c5c5c"/>
<circle cx="295.50" cy="340.81" r="1.3" fill="#5c5c5c"/>
<circle cx="298.50" cy="340.81" r="1.3" fill="#5c5c5c"/>
<circle cx="303.60" cy="339.75" r="1.3" fill="#5c5c5c"/>
<circle cx="308.50" cy="339.75" r="1.3" fill="#5c5c5c"/>
<polygon points="310.80,365.60 310.80,340.45 311.05,339.91 311.30,339.78 311.55,339.75 311.80,339.82 312.05,340.02 312.30,341.20 312.55,341.17 312.80,341.24 313.05,341.44 313.30,346.06 313.55,345.91 313.80,345.85 314.05,345.86 314.30,345.93 314.55,345.86 314.80,345.73 315.05,345.67 315.30,345.68 315.55,345.77 315.80,345.95 316.05,346.41 316.30,347.24 316.55,346.96 316.80,346.82 317.05,346.77 317.30,346.79 317.55,346.88 317.80,347.08 318.05,349.30 318.30,349.30 318.55,349.38 318.80,349.55 319.05,347.21 319.30,347.02 319.55,346.95 319.80,346.95 320.05,347.04 320.30,347.26 320.55,347.64 320.80,347.57 321.05,347.56 321.30,347.64 321.55,347.81 321.80,348.22 322.05,348.07 322.30,348.01 322.55,348.01 322.80,348.09 323.05,345.41 323.30,344.96 323.55,344.80 323.80,342.86 324.05,342.75 324.30,342.76 324.55,342.90 324.80,345.80 325.05,345.82 325.30,345.95 325.55,346.04 325.80,345.92 326.05,345.93 326.30,346.10 326.55,347.40 326.80,347.41 327.05,347.48 327.10,365.60" fill="#a9a9a9"/>
<g fill="#a9a9a9"><circle cx="315.4" cy="346.8" r="0.8"/><circle cx="317.4" cy="345.8" r="0.8"/><circle cx="317.8" cy="347.5" r="0.8"/><circle cx="323.0" cy="346.8" r="0.8"/><circle cx="325.7" cy="346.3" r="0.8"/><circle cx="312.3" cy="341.9" r="0.8"/><circle cx="326.1" cy="346.7" r="0.8"/><circle cx="311.5" cy="339.5" r="0.8"/><circle cx="320.3" cy="347.9" r="0.8"/><circle cx="319.0" cy="348.2" r="0.8"/><circle cx="325.5" cy="347.0" r="0.8"/><circle cx="318.7" cy="347.9" r="0.8"/><circle cx="324.1" cy="343.2" r="0.8"/><circle cx="326.1" cy="344.4" r="0.8"/><circle cx="318.0" cy="346.3" r="0.8"/><circle cx="313.0" cy="341.7" r="0.8"/><circle cx="316.6" cy="345.5" r="0.8"/><circle cx="313.4" cy="346.7" r="0.8"/><circle cx="320.5" cy="346.3" r="0.8"/></g>
<circle cx="312.00" cy="339.75" r="1.3" fill="#a9a9a9"/>
<circle cx="320.10" cy="340.46" r="1.3" fill="#a9a9a9"/>
<circle cx="323.00" cy="343.30" r="1.3" fill="#a9a9a9"/>
<polygon points="327.10,365.60 327.10,348.99 327.35,348.97 327.60,349.04 327.85,349.21 328.10,351.04 328.35,351.17 328.60,346.75 328.85,346.56 329.10,346.49 329.35,346.52 329.60,346.54 329.85,346.41 330.10,346.39 330.35,346.47 330.60,346.72 330.85,348.73 331.10,347.49 331.35,347.19 331.60,343.64 331.85,343.39 332.10,343.31 332.35,343.32 332.60,343.43 332.85,343.03 333.10,342.72 333.35,342.61 333.60,342.60 333.85,342.68 334.10,342.93 334.35,345.75 334.60,345.82 334.85,345.52 335.10,345.19 335.35,345.03 335.60,344.96 335.85,344.96 336.10,345.02 336.35,345.15 336.60,345.43 336.85,342.86 337.10,342.66 337.35,342.59 337.60,342.62 337.85,342.75 338.10,346.55 338.35,346.49 338.60,345.02 338.85,344.64 339.10,342.22 339.35,341.97 339.60,341.89 339.85,341.90 340.10,342.01 340.35,342.32 340.60,349.22 340.85,349.16 341.10,349.17 341.35,349.26 341.60,349.46 341.85,349.83 342.10,349.65 342.10,365.60" fill="#5c5c5c"/>
<g fill="#5c5c5c"><circle cx="340.4" cy="341.4" r="0.8"/><circle cx="330.8" cy="347.9" r="0.8"/><circle cx="340.2" cy="341.9" r="0.8"/><circle cx="328.5" cy="351.3" r="0.8"/><circle cx="331.2" cy="346.5" r="0.8"/><circle cx="340.6" cy="342.5" r="0.8"/><circle cx="333.8" cy="341.2" r="0.8"/><circle cx="332.8" cy="344.2" r="0.8"/><circle cx="331.9" cy="342.7" r="0.8"/><circle cx="336.1" cy="344.1" r="0.8"/><circle cx="335.4" cy="345.6" r="0.8"/><circle cx="331.7" cy="343.4" r="0.8"/><circle cx="335.7" cy="344.4" r="0.8"/><circle cx="330.8" cy="345.4" r="0.8"/><circle cx="335.5" cy="346.1" r="0.8"/><circle cx="328.0" cy="350.0" r="0.8"/><circle cx="341.0" cy="349.1" r="0.8"/><circle cx="341.1" cy="349.5" r="0.8"/></g>
<circle cx="337.40" cy="339.75" r="1.3" fill="#5c5c5c"/>
<polygon points="342.10,365.60 342.10,349.26 342.35,348.93 342.60,348.86 342.85,348.92 343.10,349.20 343.35,350.10 343.60,347.89 343.85,347.74 344.10,347.19 344.35,346.92 344.60,346.79 344.85,340.73 345.10,340.53 345.35,340.46 345.60,340.49 345.85,340.55 346.10,340.47 346.35,340.48 346.60,340.59 346.85,340.90 347.10,350.80 347.35,351.17 347.60,351.45 347.85,351.27 348.10,347.61 348.35,347.50 348.60,347.51 348.85,347.64 349.10,347.45 349.35,347.38 349.60,347.42 349.85,347.61 350.10,347.90 350.35,347.75 350.60,346.50 350.85,346.17 351.10,346.08 351.35,346.10 351.60,346.25 351.85,345.95 352.10,345.82 352.35,345.77 352.60,345.81 352.85,345.93 353.10,346.19 353.35,346.53 353.60,346.64 353.85,346.75 354.10,346.95 354.35,347.39 354.60,347.39 354.85,347.46 355.10,347.65 355.35,349.00 355.60,346.98 355.85,346.69 356.10,346.55 356.35,346.49 356.60,346.50 356.85,346.58 357.10,346.74 357.10,365.60" fill="#a9a9a9"/>
<g fill="#a9a9a9"><circle cx="350.7" cy="346.4" r="0.8"/><circle cx="348.5" cy="347.8" r="0.8"/><circle cx="343.6" cy="349.9" r="0.8"/><circle cx="355.6" cy="346.0" r="0.8"/><circle cx="344.6" cy="346.5" r="0.8"/><circle cx="349.9" cy="347.1" r="0.8"/><circle cx="349.4" cy="347.7" r="0.8"/><circle cx="353.6" cy="345.2" r="0.8"/><circle cx="348.0" cy="351.4" r="0.8"/><circle cx="343.0" cy="350.0" r="0.8"/><circle cx="351.5" cy="345.9" r="0.8"/><circle cx="348.9" cy="346.4" r="0.8"/><circle cx="343.6" cy="348.2" r="0.8"/><circle cx="355.5" cy="349.6" r="0.8"/><circle cx="343.0" cy="347.4" r="0.8"/><circle cx="349.8" cy="347.4" r="0.8"/><circle cx="351.1" cy="347.0" r="0.8"/><circle cx="355.1" cy="348.6" r="0.8"/></g>
<circle cx="354.20" cy="341.88" r="1.3" fill="#a9a9a9"/>
<polygon points="357.10,365.60 357.10,349.14 357.35,349.35 357.60,349.55 357.85,350.05 358.10,349.87 358.35,346.96 358.60,346.50 358.85,346.32 359.10,346.23 359.35,346.22 359.60,346.28 359.85,343.74 360.10,343.43 360.35,343.32 360.60,343.31 360.85,343.39 361.10,343.58 361.35,343.61 361.60,343.83 361.85,344.40 362.10,344.47 362.35,344.69 362.60,344.81 362.85,345.03 363.10,347.83 363.35,342.32 363.60,342.01 363.85,341.90 364.10,341.89 364.35,341.69 364.60,341.55 364.85,341.53 365.10,341.59 365.35,341.79 365.60,344.45 365.85,344.47 366.10,344.58 366.35,344.82 366.60,345.74 366.85,342.84 367.10,342.53 367.35,342.41 367.60,342.38 367.85,342.44 368.10,342.60 368.35,345.43 368.60,345.34 368.85,345.31 369.10,345.35 369.35,344.66 369.60,344.56 369.85,344.58 370.10,344.73 370.35,349.58 370.40,365.60" fill="#5c5c5c"/>
<g fill="#5c5c5c"><circle cx="369.3" cy="346.3" r="0.8"/><circle cx="363.1" cy="344.6" r="0.8"/><circle cx="359.5" cy="344.9" r="0.8"/><circle cx="362.0" cy="343.4" r="0.8"/><circle cx="358.5" cy="347.4" r="0.8"/><circle cx="369.3" cy="345.7" r="0.8"/><circle cx="368.7" cy="346.2" r="0.8"/><circle cx="365.5" cy="341.7" r="0.8"/><circle cx="362.0" cy="344.2" r="0.8"/><circle cx="361.6" cy="342.5" r="0.8"/><circle cx="363.7" cy="342.3" r="0.8"/><circle cx="364.8" cy="342.0" r="0.8"/><circle cx="361.8" cy="342.2" r="0.8"/><circle cx="360.3" cy="342.6" r="0.8"/><circle cx="364.4" cy="341.2" r="0.8"/></g>
<circle cx="359.30" cy="331.02" r="1.3" fill="#5c5c5c"/>
<circle cx="368.80" cy="340.46" r="1.3" fill="#5c5c5c"/>
<polygon points="370.40,365.60 370.40,347.51 370.65,346.27 370.90,346.07 371.15,345.98 371.40,345.96 371.65,346.03 371.90,340.09 372.15,339.84 372.40,339.76 372.65,339.77 372.90,339.88 373.15,340.19 373.40,337.96 373.65,337.71 373.90,337.63 374.15,337.64 374.40,337.75 374.65,338.06 374.90,342.83 375.15,342.99 375.40,343.17 375.65,343.57 375.90,342.71 376.15,342.46 376.40,342.39 376.65,342.43 376.90,342.59 377.15,345.09 377.40,344.90 377.65,344.88 377.90,344.99 378.15,345.50 378.40,345.48 378.65,345.58 378.90,348.23 379.15,346.33 379.40,346.18 379.65,346.17 379.90,346.29 380.15,350.74 380.40,350.91 380.65,350.57 380.90,347.60 381.15,347.23 381.40,347.12 381.65,347.11 381.90,347.19 382.15,346.57 382.40,346.38 382.65,346.35 382.90,346.43 383.10,365.60" fill="#a9a9a9"/>
<g fill="#a9a9a9"><circle cx="374.6" cy="338.0" r="0.8"/><circle cx="374.8" cy="338.1" r="0.8"/><circle cx="375.2" cy="343.9" r="0.8"/><circle cx="372.8" cy="338.2" r="0.8"/><circle cx="372.1" cy="340.0" r="0.8"/><circle cx="377.8" cy="345.6" r="0.8"/><circle cx="382.0" cy="346.7" r="0.8"/><circle cx="380.5" cy="350.4" r="0.8"/><circle cx="375.3" cy="341.8" r="0.8"/><circle cx="381.0" cy="346.9" r="0.8"/><circle cx="378.4" cy="345.3" r="0.8"/><circle cx="382.5" cy="345.5" r="0.8"/><circle cx="377.3" cy="345.7" r="0.8"/><circle cx="373.2" cy="340.9" r="0.8"/><circle cx="377.4" cy="343.6" r="0.8"/></g>
<circle cx="374.20" cy="337.27" r="1.3" fill="#a9a9a9"/>
<polygon points="383.10,365.60 383.10,348.33 383.35,348.35 383.60,348.48 383.85,342.32 384.10,342.01 384.35,341.90 384.60,341.89 384.85,341.97 385.10,342.22 385.35,343.03 385.60,342.72 385.85,342.61 386.10,342.60 386.35,342.68 386.60,342.93 386.85,346.73 387.10,346.87 387.35,347.31 387.60,347.00 387.85,365.60 388.10,365.60 388.35,365.60 388.60,365.60 388.85,365.60 389.10,345.64 389.35,345.49 389.60,345.47 389.85,345.57 390.10,347.12 390.35,347.01 390.60,347.00 390.85,346.11 391.10,345.59 391.35,345.31 391.60,345.18 391.85,345.13 392.10,345.14 392.35,345.23 392.60,345.40 392.85,345.83 393.10,344.71 393.35,344.17 393.60,344.04 393.85,344.01 394.10,344.08 394.35,344.28 394.60,346.92 394.85,351.56 395.00,365.60" fill="#5c5c5c"/>
<g fill="#5c5c5c"><circle cx="394.2" cy="343.4" r="0.8"/><circle cx="385.7" cy="343.0" r="0.8"/><circle cx="385.5" cy="344.2" r="0.8"/><circle cx="389.9" cy="344.3" r="0.8"/><circle cx="384.0" cy="342.4" r="0.8"/><circle cx="384.2" cy="340.6" r="0.8"/><circle cx="392.6" cy="344.0" r="0.8"/><circle cx="393.0" cy="345.4" r="0.8"/><circle cx="392.8" cy="344.2" r="0.8"/><circle cx="384.2" cy="341.6" r="0.8"/><circle cx="386.0" cy="342.3" r="0.8"/><circle cx="392.5" cy="346.1" r="0.8"/></g>
<circle cx="384.80" cy="338.33" r="1.3" fill="#5c5c5c"/>
<circle cx="385.10" cy="341.17" r="1.3" fill="#5c5c5c"/>
<circle cx="390.00" cy="337.27" r="1.3" fill="#5c5c5c"/>
<circle cx="392.80" cy="340.46" r="1.3" fill="#5c5c5c"/>
<circle cx="390.00" cy="344.72" r="1.3" fill="#5c5c5c"/>
<polygon points="395.00,365.60 395.00,344.80 395.25,344.56 395.50,344.46 395.75,344.43 396.00,344.47 396.25,344.60 396.50,344.88 396.75,345.94 397.00,346.19 397.25,346.97 397.50,341.38 397.75,341.22 398.00,341.17 398.25,341.22 398.50,341.38 398.75,347.47 399.00,345.03 399.25,344.80 399.50,344.71 399.75,344.69 400.00,344.75 400.25,344.91 400.50,345.35 400.75,347.27 401.00,347.52 401.25,345.26 401.50,340.32 401.75,340.15 402.00,340.11 402.25,340.15 402.50,340.32 402.75,345.86 403.00,351.64 403.25,348.60 403.50,348.37 403.75,348.26 404.00,348.23 404.25,348.28 404.50,346.56 404.75,346.23 405.00,346.13 405.25,346.12 405.50,346.22 405.75,346.50 406.00,344.38 406.25,344.21 406.50,344.18 406.75,344.26 407.00,344.60 407.25,349.86 407.50,349.72 407.50,365.60" fill="#a9a9a9"/>
<g fill="#a9a9a9"><circle cx="400.4" cy="344.7" r="0.8"/><circle cx="406.4" cy="344.3" r="0.8"/><circle cx="403.3" cy="348.2" r="0.8"/><circle cx="401.2" cy="348.7" r="0.8"/><circle cx="400.3" cy="346.1" r="0.8"/><circle cx="402.5" cy="341.1" r="0.8"/><circle cx="402.1" cy="340.8" r="0.8"/><circle cx="404.9" cy="345.7" r="0.8"/><circle cx="399.3" cy="345.8" r="0.8"/><circle cx="399.3" cy="345.4" r="0.8"/><circle cx="397.6" cy="341.1" r="0.8"/><circle cx="399.9" cy="343.9" r="0.8"/><circle cx="398.3" cy="342.3" r="0.8"/><circle cx="403.2" cy="351.3" r="0.8"/><circle cx="402.1" cy="340.9" r="0.8"/></g>
<polygon points="407.50,365.60 407.50,345.21 407.75,345.03 408.00,339.96 408.25,339.80 408.50,339.75 408.75,339.80 409.00,339.96 409.25,339.80 409.50,339.75 409.75,339.80 410.00,339.96 410.25,345.05 410.50,344.75 410.75,344.62 411.00,344.58 411.25,344.61 411.50,344.72 411.75,344.97 412.00,346.67 412.25,346.58 412.50,346.57 412.75,346.65 413.00,342.19 413.25,341.93 413.50,341.86 413.75,341.91 414.00,342.11 414.25,345.90 414.50,346.01 414.75,344.91 415.00,344.70 415.25,344.61 415.50,344.61 415.75,344.68 416.00,337.83 416.25,337.67 416.50,337.62 416.75,337.67 417.00,337.83 417.25,343.23 417.50,343.36 417.75,347.53 418.00,347.63 418.25,347.80 418.50,346.91 418.75,346.68 419.00,346.59 419.25,346.57 419.50,346.63 419.50,365.60" fill="#5c5c5c"/>
<g fill="#5c5c5c"><circle cx="410.1" cy="338.5" r="0.8"/><circle cx="414.9" cy="344.2" r="0.8"/><circle cx="414.0" cy="341.2" r="0.8"/><circle cx="415.6" cy="343.4" r="0.8"/><circle cx="413.6" cy="342.4" r="0.8"/><circle cx="417.7" cy="342.7" r="0.8"/><circle cx="414.0" cy="343.2" r="0.8"/><circle cx="409.6" cy="340.5" r="0.8"/><circle cx="416.0" cy="338.9" r="0.8"/><circle cx="413.4" cy="341.6" r="0.8"/><circle cx="414.0" cy="341.3" r="0.8"/><circle cx="408.7" cy="339.7" r="0.8"/><circle cx="412.3" cy="346.4" r="0.8"/><circle cx="415.7" cy="344.1" r="0.8"/></g>
<circle cx="417.00" cy="329.10" r="1.3" fill="#5c5c5c"/>
<circle cx="418.50" cy="339.04" r="1.3" fill="#5c5c5c"/>
<polygon points="419.50,365.60 419.50,346.16 419.75,346.16 420.00,342.36 420.25,342.18 420.50,339.25 420.75,339.09 421.00,339.04 421.25,339.09 421.50,339.25 421.75,339.80 422.00,339.75 422.25,339.80 422.50,339.96 422.75,341.83 423.00,343.01 423.25,342.96 423.50,342.95 423.75,343.02 424.00,343.19 424.25,343.06 424.50,343.00 424.75,343.03 425.00,343.15 425.25,343.48 425.50,349.12 425.75,344.84 426.00,344.54 426.25,344.41 426.50,344.36 426.75,344.38 427.00,344.48 427.25,344.69 427.50,345.56 427.75,345.50 428.00,345.52 428.25,345.63 428.50,345.93 428.75,347.17 429.00,347.16 429.25,347.26 429.50,347.51 429.75,345.43 430.00,345.21 430.25,345.12 430.50,345.12 430.75,345.22 431.00,345.45 431.25,348.81 431.50,349.24 431.60,365.60" fill="#a9a9a9"/>
<g fill="#a9a9a9"><circle cx="430.5" cy="345.3" r="0.8"/><circle cx="423.3" cy="343.7" r="0.8"/><circle cx="430.4" cy="345.1" r="0.8"/><circle cx="425.0" cy="342.6" r="0.8"/><circle cx="424.2" cy="344.0" r="0.8"/><circle cx="427.9" cy="346.4" r="0.8"/><circle cx="420.5" cy="340.9" r="0.8"/><circle cx="425.8" cy="344.9" r="0.8"/><circle cx="424.8" cy="342.9" r="0.8"/><circle cx="429.9" cy="345.4" r="0.8"/><circle cx="423.0" cy="341.6" r="0.8"/><circle cx="423.3" cy="343.1" r="0.8"/><circle cx="426.5" cy="344.7" r="0.8"/><circle cx="430.7" cy="344.9" r="0.8"/></g>
<polygon points="431.60,365.60 431.60,351.26 431.85,351.09 432.10,350.98 432.35,339.48 432.60,339.17 432.85,339.06 433.10,339.05 433.35,339.13 433.60,339.38 433.85,340.19 434.10,339.88 434.35,339.77 434.60,339.76 434.85,339.84 435.10,340.09 435.35,347.16 435.60,346.74 435.85,346.56 436.10,345.99 436.35,340.19 436.60,339.88 436.85,339.77 437.10,339.76 437.35,339.84 437.60,340.09 437.85,340.90 438.10,340.59 438.35,340.48 438.60,340.47 438.85,340.55 439.10,340.80 439.35,345.49 439.60,345.46 439.85,345.52 440.10,345.72 440.20,365.60" fill="#5c5c5c"/>
<g fill="#5c5c5c"><circle cx="437.1" cy="338.8" r="0.8"/><circle cx="433.6" cy="338.3" r="0.8"/><circle cx="435.6" cy="346.1" r="0.8"/><circle cx="435.9" cy="347.6" r="0.8"/><circle cx="438.3" cy="341.1" r="0.8"/><circle cx="439.2" cy="341.8" r="0.8"/><circle cx="436.3" cy="346.3" r="0.8"/><circle cx="434.8" cy="339.7" r="0.8"/><circle cx="439.0" cy="340.4" r="0.8"/><circle cx="435.3" cy="340.3" r="0.8"/></g>
<circle cx="434.00" cy="336.20" r="1.3" fill="#5c5c5c"/>
<polygon points="440.20,365.60 440.20,349.13 440.45,349.10 440.70,349.13 440.95,349.03 441.20,348.40 441.45,348.61 441.70,348.55 441.95,348.51 442.20,348.75 442.45,349.56 442.70,349.82 442.95,350.39 443.20,349.94 443.45,345.28 443.70,345.12 443.95,338.60 444.20,338.40 444.45,338.33 444.70,338.36 444.95,338.49 445.20,339.03 445.45,347.05 445.70,342.79 445.95,342.66 446.20,342.65 446.45,342.75 446.70,343.07 446.95,343.72 447.20,343.90 447.45,343.89 447.70,343.91 447.95,343.99 448.20,344.11 448.45,344.36 448.70,350.80 448.95,350.62 449.20,350.24 449.30,365.60" fill="#a9a9a9"/>
<g fill="#a9a9a9"><circle cx="443.9" cy="343.8" r="0.8"/><circle cx="443.0" cy="348.8" r="0.8"/><circle cx="444.0" cy="338.0" r="0.8"/><circle cx="443.4" cy="349.4" r="0.8"/><circle cx="441.1" cy="348.6" r="0.8"/><circle cx="446.0" cy="342.0" r="0.8"/><circle cx="445.3" cy="339.7" r="0.8"/><circle cx="444.9" cy="339.4" r="0.8"/><circle cx="446.9" cy="343.0" r="0.8"/><circle cx="441.5" cy="348.3" r="0.8"/></g>
<circle cx="444.50" cy="338.33" r="1.3" fill="#a9a9a9"/>
<polygon points="449.30,365.60 449.30,346.62 449.55,346.33 449.80,346.10 450.05,346.16 450.30,342.58 450.55,342.04 450.80,341.91 451.05,341.88 451.30,341.95 451.55,342.15 451.80,344.76 452.05,344.54 452.30,343.74 452.55,343.56 452.80,343.50 453.05,343.53 453.30,343.65 453.55,343.80 453.80,344.13 454.05,344.43 454.30,343.30 454.55,342.85 454.80,342.46 455.05,342.30 455.30,342.24 455.55,342.24 455.80,342.32 456.05,342.50 456.30,342.66 456.55,342.86 456.80,343.36 457.05,343.29 457.30,343.28 457.40,365.60" fill="#5c5c5c"/>
<g fill="#5c5c5c"><circle cx="451.0" cy="341.1" r="0.8"/><circle cx="452.7" cy="342.5" r="0.8"/><circle cx="452.4" cy="342.9" r="0.8"/><circle cx="450.6" cy="342.9" r="0.8"/><circle cx="454.1" cy="345.6" r="0.8"/><circle cx="454.1" cy="344.6" r="0.8"/><circle cx="452.4" cy="344.4" r="0.8"/><circle cx="453.1" cy="344.2" r="0.8"/><circle cx="453.1" cy="344.0" r="0.8"/></g>
<polygon points="457.40,365.60 457.40,346.00 457.65,343.10 457.90,342.27 458.15,341.87 458.40,341.69 458.65,341.60 458.90,341.58 459.15,341.63 459.40,341.75 459.65,341.92 459.90,339.92 460.15,339.78 460.40,339.76 460.65,339.85 460.90,340.11 461.15,340.12 461.40,340.23 461.65,340.55 461.90,340.47 462.15,340.48 462.40,340.59 462.65,340.25 462.90,340.18 463.15,340.09 463.40,339.89 463.65,339.79 463.90,339.78 464.15,339.83 464.40,339.97 464.65,340.30 464.90,346.82 465.15,346.72 465.40,346.56 465.50,365.60" fill="#a9a9a9"/>
<g fill="#a9a9a9"><circle cx="461.7" cy="340.3" r="0.8"/><circle cx="464.8" cy="340.4" r="0.8"/><circle cx="462.3" cy="339.0" r="0.8"/><circle cx="458.5" cy="340.9" r="0.8"/><circle cx="461.1" cy="341.1" r="0.8"/><circle cx="458.4" cy="342.3" r="0.8"/><circle cx="462.3" cy="339.6" r="0.8"/><circle cx="464.3" cy="339.3" r="0.8"/><circle cx="463.8" cy="339.0" r="0.8"/></g>
<circle cx="461.50" cy="338.33" r="1.3" fill="#a9a9a9"/>
<circle cx="464.50" cy="338.33" r="1.3" fill="#a9a9a9"/>
<circle cx="464.50" cy="341.17" r="1.3" fill="#a9a9a9"/>
<circle cx="465.00" cy="336.20" r="1.3" fill="#a9a9a9"/>
<polygon points="465.50,365.60 465.50,341.90 465.75,341.89 466.00,341.79 466.25,341.50 466.50,341.39 466.75,341.37 467.00,341.43 467.25,341.62 467.50,346.99 467.75,347.02 468.00,347.12 468.25,340.62 468.50,340.33 468.75,340.27 469.00,340.32 469.25,340.51 469.50,340.46 469.75,340.51 470.00,340.67 470.25,341.61 470.50,341.71 470.75,341.95 471.00,345.75 471.25,345.55 471.50,345.45 471.75,345.42 472.00,339.73 472.25,339.49 472.50,339.40 472.75,339.41 473.00,339.52 473.25,339.84 473.50,347.57 473.60,365.60" fill="#5c5c5c"/>
<g fill="#5c5c5c"><circle cx="471.7" cy="345.4" r="0.8"/><circle cx="467.8" cy="345.6" r="0.8"/><circle cx="469.9" cy="339.3" r="0.8"/><circle cx="472.3" cy="340.4" r="0.8"/><circle cx="471.2" cy="346.9" r="0.8"/><circle cx="468.2" cy="345.9" r="0.8"/><circle cx="470.5" cy="340.8" r="0.8"/><circle cx="470.9" cy="340.6" r="0.8"/><circle cx="468.5" cy="340.9" r="0.8"/></g>
<polygon points="473.60,365.60 473.60,345.19 473.85,345.05 474.10,345.01 474.35,345.08 474.60,345.29 474.85,349.52 475.10,350.88 475.35,350.21 475.60,349.99 475.85,350.07 476.10,350.72 476.35,345.87 476.60,345.56 476.85,345.45 477.10,345.44 477.35,345.52 477.60,345.77 477.85,348.89 478.10,348.97 478.35,349.16 478.60,351.25 478.85,347.66 479.10,346.53 479.35,346.31 479.60,345.99 479.85,344.56 480.10,344.36 480.35,344.27 480.60,344.26 480.85,344.32 481.10,344.47 481.35,344.81 481.60,348.07 481.60,365.60" fill="#a9a9a9"/>
<g fill="#a9a9a9"><circle cx="480.4" cy="344.9" r="0.8"/><circle cx="477.8" cy="346.5" r="0.8"/><circle cx="480.1" cy="343.8" r="0.8"/><circle cx="478.8" cy="350.0" r="0.8"/><circle cx="474.5" cy="345.6" r="0.8"/><circle cx="475.7" cy="349.5" r="0.8"/><circle cx="477.5" cy="346.6" r="0.8"/><circle cx="479.5" cy="346.2" r="0.8"/><circle cx="479.7" cy="345.1" r="0.8"/></g>
<polygon points="481.60,365.60 481.60,346.41 481.85,346.15 482.10,342.09 482.35,341.95 482.60,341.93 482.85,342.03 483.10,343.42 483.35,343.03 483.60,342.72 483.85,341.13 484.10,341.00 484.35,341.01 484.60,341.17 484.85,346.55 485.10,346.86 485.35,342.91 485.60,342.39 485.85,342.20 486.10,342.11 486.35,342.10 486.60,342.15 486.85,340.90 487.10,340.71 487.35,340.63 487.60,340.64 487.85,340.73 488.10,340.94 488.35,347.17 488.60,347.07 488.70,365.60" fill="#5c5c5c"/>
<g fill="#5c5c5c"><circle cx="487.7" cy="340.4" r="0.8"/><circle cx="485.3" cy="347.3" r="0.8"/><circle cx="487.5" cy="339.3" r="0.8"/><circle cx="486.6" cy="343.1" r="0.8"/><circle cx="483.4" cy="342.3" r="0.8"/><circle cx="485.0" cy="346.6" r="0.8"/><circle cx="484.9" cy="346.6" r="0.8"/><circle cx="484.5" cy="340.6" r="0.8"/></g>
<polygon points="488.70,365.60 488.70,340.70 488.95,340.54 489.20,340.53 489.45,340.50 489.70,340.41 489.95,340.41 490.20,340.50 490.45,340.71 490.70,344.86 490.95,344.79 491.20,344.81 491.45,344.92 491.70,341.17 491.95,339.82 492.20,339.25 492.45,339.05 492.70,338.96 492.95,338.93 493.20,338.97 493.45,339.09 493.70,339.32 493.95,341.78 494.20,341.54 494.45,341.48 494.70,341.54 494.95,341.77 495.20,346.42 495.45,346.66 495.70,346.85 495.80,365.60" fill="#a9a9a9"/>
<g fill="#a9a9a9"><circle cx="492.9" cy="337.9" r="0.8"/><circle cx="493.6" cy="339.7" r="0.8"/><circle cx="490.1" cy="339.2" r="0.8"/><circle cx="494.8" cy="340.0" r="0.8"/><circle cx="494.0" cy="342.3" r="0.8"/><circle cx="493.4" cy="337.5" r="0.8"/><circle cx="494.9" cy="340.5" r="0.8"/><circle cx="494.4" cy="341.3" r="0.8"/></g>
<circle cx="492.20" cy="334.50" r="1.3" fill="#a9a9a9"/>
<circle cx="493.60" cy="338.33" r="1.3" fill="#a9a9a9"/>
<polygon points="495.80,365.60 495.80,344.11 496.05,343.99 496.30,343.98 496.55,344.07 496.80,341.73 497.05,341.39 497.30,341.30 497.55,341.31 497.80,341.18 498.05,340.96 498.30,340.90 498.55,340.95 498.80,341.15 499.05,342.61 499.30,342.65 499.55,342.61 499.80,342.64 500.05,342.78 500.30,346.58 500.55,346.38 500.80,346.54 500.80,365.60" fill="#5c5c5c"/>
<g fill="#5c5c5c"><circle cx="498.2" cy="341.4" r="0.8"/><circle cx="498.9" cy="339.9" r="0.8"/><circle cx="498.2" cy="339.5" r="0.8"/><circle cx="496.7" cy="344.4" r="0.8"/><circle cx="497.2" cy="339.9" r="0.8"/><circle cx="498.2" cy="341.3" r="0.8"/></g>
<circle cx="499.00" cy="341.17" r="1.3" fill="#5c5c5c"/>
<polygon points="500.80,365.60 500.80,340.10 501.05,340.10 501.30,340.20 501.55,340.44 501.80,342.32 502.05,342.25 502.30,342.28 502.55,342.42 502.80,346.25 503.05,346.04 503.30,346.37 503.55,346.54 503.80,346.70 504.05,346.61 504.30,346.10 504.55,346.00 504.80,340.21 505.05,340.00 505.30,339.95 505.55,340.02 505.80,340.29 505.90,365.60" fill="#a9a9a9"/>
<g fill="#a9a9a9"><circle cx="501.5" cy="339.4" r="0.8"/><circle cx="504.9" cy="340.2" r="0.8"/><circle cx="502.1" cy="342.0" r="0.8"/><circle cx="503.0" cy="347.0" r="0.8"/><circle cx="504.5" cy="345.4" r="0.8"/><circle cx="505.2" cy="338.5" r="0.8"/></g>
<circle cx="503.60" cy="335.49" r="1.3" fill="#a9a9a9"/>
<polygon points="505.90,365.60 505.90,343.41 506.15,343.10 506.40,343.03 506.65,343.07 506.90,343.29 507.15,344.88 507.40,344.75 507.65,343.43 507.90,343.13 508.15,343.00 508.40,342.95 508.65,342.97 508.90,343.06 509.15,343.27 509.40,351.02 509.65,350.96 509.90,350.89 510.15,350.90 510.40,350.98 510.65,351.18 510.90,354.45 511.15,354.43 511.40,354.02 511.65,354.26 511.90,354.83 512.15,355.05 512.40,355.19 512.65,355.24 512.90,355.07 513.15,355.53 513.40,355.53 513.65,355.47 513.90,355.03 514.15,355.13 514.40,353.40 514.65,353.08 514.90,352.94 515.15,352.90 515.40,352.92 515.65,353.03 515.90,353.29 516.15,350.58 516.40,350.34 516.65,350.22 516.90,350.17 517.15,350.19 517.40,350.28 517.65,350.16 517.90,350.01 518.15,349.94 518.40,349.95 518.65,350.03 518.90,350.21 519.15,350.69 519.40,352.18 519.60,365.60" fill="#5c5c5c"/>
<g fill="#5c5c5c"><circle cx="518.5" cy="349.5" r="0.8"/><circle cx="516.7" cy="350.8" r="0.8"/><circle cx="512.0" cy="354.1" r="0.8"/><circle cx="507.9" cy="344.2" r="0.8"/><circle cx="516.7" cy="350.7" r="0.8"/><circle cx="509.6" cy="351.7" r="0.8"/><circle cx="509.0" cy="343.2" r="0.8"/><circle cx="508.5" cy="342.6" r="0.8"/><circle cx="514.1" cy="355.4" r="0.8"/><circle cx="518.0" cy="351.1" r="0.8"/><circle cx="516.0" cy="351.8" r="0.8"/><circle cx="511.3" cy="354.9" r="0.8"/><circle cx="517.4" cy="348.7" r="0.8"/><circle cx="511.5" cy="355.0" r="0.8"/><circle cx="518.1" cy="350.9" r="0.8"/><circle cx="508.4" cy="342.2" r="0.8"/></g>
<text x="265.50" y="371.40" font-size="5.2" text-anchor="middle" fill="#000" stroke="#000" stroke-width="0.25">1</text>
<text x="284.60" y="371.40" font-size="5.2" text-anchor="middle" fill="#000" stroke="#000" stroke-width="0.25">2</text>
<text x="303.00" y="371.40" font-size="5.2" text-anchor="middle" fill="#000" stroke="#000" stroke-width="0.25">3</text>
<text x="319.20" y="371.40" font-size="5.2" text-anchor="middle" fill="#000" stroke="#000" stroke-width="0.25">4</text>
<text x="334.40" y="371.40" font-size="5.2" text-anchor="middle" fill="#000" stroke="#000" stroke-width="0.25">5</text>
<text x="349.20" y="371.40" font-size="5.2" text-anchor="middle" fill="#000" stroke="#000" stroke-width="0.25">6</text>
<text x="363.30" y="371.40" font-size="5.2" text-anchor="middle" fill="#000" stroke="#000" stroke-width="0.25">7</text>
<text x="376.20" y="371.40" font-size="5.2" text-anchor="middle" fill="#000" stroke="#000" stroke-width="0.25">8</text>
<text x="388.80" y="371.40" font-size="5.2" text-anchor="middle" fill="#000" stroke="#000" stroke-width="0.25">9</text>
<text x="401.20" y="371.40" font-size="5.2" text-anchor="middle" fill="#000" stroke="#000" stroke-width="0.25">10</text>
<text x="413.30" y="371.40" font-size="5.2" text-anchor="middle" fill="#000" stroke="#000" stroke-width="0.25">11</text>
<text x="426.10" y="371.40" font-size="5.2" text-anchor="middle" fill="#000" stroke="#000" stroke-width="0.25">12</text>
<text x="444.90" y="371.40" font-size="5.2" text-anchor="middle" fill="#000" stroke="#000" stroke-width="0.25">14</text>
<text x="461.80" y="371.40" font-size="5.2" text-anchor="middle" fill="#000" stroke="#000" stroke-width="0.25">16</text>
<text x="478.60" y="371.40" font-size="5.2" text-anchor="middle" fill="#000" stroke="#000" stroke-width="0.25">18</text>
<text x="492.10" y="371.40" font-size="5.2" text-anchor="middle" fill="#000" stroke="#000" stroke-width="0.25">20</text>
<text x="511.50" y="371.40" font-size="5.2" text-anchor="middle" fill="#000" stroke="#000" stroke-width="0.25">23</text>
<text x="387.10" y="385.80" font-size="9.4" text-anchor="middle" fill="#000" stroke="#000" stroke-width="0.25">Chromosomes</text>
<text x="237.00" y="425.80" font-size="11.0" font-weight="bold" text-anchor="start" fill="#000">Painful crisis</text>
<path d="M245.5,454.10V525.10" stroke="#6a6a6a" stroke-width="1.0" fill="none"/>
<path d="M242.0,525.10H245.5" stroke="#6a6a6a" stroke-width="1.0"/>
<text x="236.40" y="527.55" font-size="7.0" text-anchor="end" fill="#000">0</text>
<path d="M242.0,518.00H245.5" stroke="#6a6a6a" stroke-width="1.0"/>
<text x="236.40" y="520.45" font-size="7.0" text-anchor="end" fill="#000">1</text>
<path d="M242.0,510.90H245.5" stroke="#6a6a6a" stroke-width="1.0"/>
<text x="236.40" y="513.35" font-size="7.0" text-anchor="end" fill="#000">2</text>
<path d="M242.0,503.80H245.5" stroke="#6a6a6a" stroke-width="1.0"/>
<text x="236.40" y="506.25" font-size="7.0" text-anchor="end" fill="#000">3</text>
<path d="M242.0,496.70H245.5" stroke="#6a6a6a" stroke-width="1.0"/>
<text x="236.40" y="499.15" font-size="7.0" text-anchor="end" fill="#000">4</text>
<path d="M242.0,489.60H245.5" stroke="#6a6a6a" stroke-width="1.0"/>
<text x="236.40" y="492.05" font-size="7.0" text-anchor="end" fill="#000">5</text>
<path d="M242.0,482.50H245.5" stroke="#6a6a6a" stroke-width="1.0"/>
<text x="236.40" y="484.95" font-size="7.0" text-anchor="end" fill="#000">6</text>
<path d="M242.0,475.40H245.5" stroke="#6a6a6a" stroke-width="1.0"/>
<text x="236.40" y="477.85" font-size="7.0" text-anchor="end" fill="#000">7</text>
<path d="M242.0,468.30H245.5" stroke="#6a6a6a" stroke-width="1.0"/>
<text x="236.40" y="470.75" font-size="7.0" text-anchor="end" fill="#000">8</text>
<path d="M242.0,461.20H245.5" stroke="#6a6a6a" stroke-width="1.0"/>
<text x="236.40" y="463.65" font-size="7.0" text-anchor="end" fill="#000">9</text>
<path d="M242.0,454.10H245.5" stroke="#6a6a6a" stroke-width="1.0"/>
<text x="236.40" y="456.55" font-size="7.0" text-anchor="end" fill="#000">10</text>
<text transform="translate(215.30,489.30) rotate(-90)" font-size="9.8" text-anchor="middle" fill="#000" stroke="#000" stroke-width="0.1">−<tspan dx="0.88">log</tspan><tspan font-size="6.86" dy="1.76">10</tspan><tspan dy="-1.76">(P-value)</tspan></text>
<polygon points="255.60,526.10 255.60,511.02 255.85,505.25 256.10,504.99 256.35,504.91 256.60,504.93 256.85,505.07 257.10,507.05 257.35,506.44 257.60,506.27 257.85,506.25 258.10,506.36 258.35,506.74 258.60,506.92 258.85,507.34 259.10,507.99 259.35,507.77 259.60,507.71 259.85,507.76 260.10,507.94 260.35,502.93 260.60,502.73 260.85,502.67 261.10,502.69 261.35,502.83 261.60,506.72 261.85,506.83 262.10,507.10 262.35,509.27 262.60,511.88 262.85,511.80 263.10,512.14 263.35,511.67 263.60,506.72 263.85,506.39 264.10,506.14 264.35,506.03 264.60,506.01 264.85,506.06 265.10,506.21 265.35,506.60 265.60,507.86 265.85,506.93 266.10,506.59 266.35,506.43 266.60,506.35 266.85,506.35 267.10,506.41 267.35,506.55 267.60,506.84 267.85,507.72 268.10,507.65 268.35,502.47 268.60,502.15 268.85,502.04 269.10,502.03 269.35,502.12 269.60,502.36 269.85,508.11 270.10,508.34 270.35,511.14 270.60,499.53 270.85,498.99 271.10,498.86 271.35,498.83 271.60,498.90 271.85,499.10 272.10,512.42 272.35,512.02 272.60,509.90 272.85,509.72 273.10,509.68 273.35,509.75 273.60,509.97 273.85,510.93 274.10,506.61 274.35,506.37 274.60,506.32 274.85,506.40 275.10,509.23 275.20,526.10" fill="#5c5c5c"/>
<g fill="#5c5c5c"><circle cx="269.8" cy="503.2" r="0.8"/><circle cx="258.3" cy="505.3" r="0.8"/><circle cx="257.4" cy="507.2" r="0.8"/><circle cx="273.9" cy="509.4" r="0.8"/><circle cx="270.7" cy="500.0" r="0.8"/><circle cx="272.9" cy="508.9" r="0.8"/><circle cx="269.4" cy="501.2" r="0.8"/><circle cx="257.6" cy="506.9" r="0.8"/><circle cx="257.0" cy="505.4" r="0.8"/><circle cx="261.4" cy="502.6" r="0.8"/><circle cx="272.6" cy="509.0" r="0.8"/><circle cx="264.8" cy="505.4" r="0.8"/><circle cx="259.7" cy="507.4" r="0.8"/><circle cx="259.5" cy="508.4" r="0.8"/><circle cx="267.5" cy="505.7" r="0.8"/><circle cx="274.1" cy="506.0" r="0.8"/><circle cx="268.6" cy="502.9" r="0.8"/><circle cx="261.1" cy="501.1" r="0.8"/><circle cx="272.6" cy="511.0" r="0.8"/><circle cx="259.3" cy="506.8" r="0.8"/><circle cx="264.2" cy="506.2" r="0.8"/><circle cx="274.4" cy="507.5" r="0.8"/><circle cx="274.4" cy="505.5" r="0.8"/></g>
<circle cx="258.60" cy="498.33" r="1.3" fill="#5c5c5c"/>
<circle cx="269.90" cy="493.86" r="1.3" fill="#5c5c5c"/>
<circle cx="267.80" cy="498.83" r="1.3" fill="#5c5c5c"/>
<circle cx="274.20" cy="503.09" r="1.3" fill="#5c5c5c"/>
<polygon points="275.20,526.10 275.20,508.16 275.45,508.12 275.70,505.52 275.95,505.30 276.20,505.21 276.45,505.22 276.70,505.32 276.95,505.59 277.20,507.46 277.45,507.56 277.70,500.46 277.95,500.30 278.20,500.25 278.45,500.30 278.70,500.46 278.95,504.86 279.20,504.79 279.45,504.83 279.70,505.00 279.95,506.61 280.20,506.14 280.45,505.98 280.70,505.91 280.95,505.93 281.20,506.02 281.45,506.24 281.70,506.62 281.95,511.02 282.20,510.83 282.45,510.57 282.70,506.49 282.95,506.30 283.20,506.21 283.45,506.20 283.70,506.27 283.95,506.43 284.20,506.81 284.45,510.16 284.70,510.96 284.95,505.15 285.20,504.86 285.45,504.76 285.70,504.77 285.95,504.89 286.20,505.26 286.45,506.50 286.70,506.43 286.95,506.47 287.20,505.56 287.45,505.20 287.70,505.06 287.95,504.95 288.20,504.64 288.45,504.53 288.70,504.52 288.95,504.60 289.20,504.85 289.45,506.39 289.70,506.32 289.95,506.32 290.20,504.11 290.45,503.98 290.70,503.98 290.95,504.11 291.20,505.21 291.45,505.29 291.70,505.55 291.95,505.08 292.20,504.77 292.45,504.68 292.70,504.70 292.95,504.86 293.20,508.10 293.45,508.06 293.70,508.12 293.95,508.34 294.20,510.35 294.45,510.42 294.70,510.12 294.95,509.64 295.00,526.10" fill="#a9a9a9"/>
<g fill="#a9a9a9"><circle cx="276.8" cy="504.6" r="0.8"/><circle cx="289.7" cy="504.9" r="0.8"/><circle cx="276.7" cy="505.6" r="0.8"/><circle cx="292.2" cy="504.4" r="0.8"/><circle cx="287.4" cy="504.7" r="0.8"/><circle cx="280.9" cy="505.6" r="0.8"/><circle cx="279.9" cy="504.7" r="0.8"/><circle cx="278.6" cy="501.3" r="0.8"/><circle cx="287.9" cy="503.7" r="0.8"/><circle cx="279.4" cy="505.5" r="0.8"/><circle cx="282.7" cy="505.6" r="0.8"/><circle cx="276.2" cy="505.5" r="0.8"/><circle cx="286.4" cy="506.0" r="0.8"/><circle cx="279.0" cy="505.4" r="0.8"/><circle cx="291.2" cy="504.8" r="0.8"/><circle cx="289.7" cy="506.0" r="0.8"/><circle cx="276.7" cy="505.4" r="0.8"/><circle cx="276.3" cy="503.9" r="0.8"/><circle cx="283.4" cy="505.0" r="0.8"/><circle cx="284.2" cy="507.6" r="0.8"/><circle cx="279.0" cy="505.5" r="0.8"/><circle cx="294.4" cy="508.9" r="0.8"/><circle cx="283.7" cy="506.6" r="0.8"/></g>
<circle cx="281.30" cy="492.44" r="1.3" fill="#a9a9a9"/>
<circle cx="283.80" cy="490.31" r="1.3" fill="#a9a9a9"/>
<circle cx="279.40" cy="500.25" r="1.3" fill="#a9a9a9"/>
<polygon points="295.00,526.10 295.00,513.36 295.25,513.54 295.50,513.59 295.75,513.22 296.00,498.82 296.25,498.28 296.50,498.15 296.75,498.12 297.00,498.19 297.25,498.39 297.50,501.88 297.75,501.72 298.00,501.67 298.25,501.72 298.50,501.88 298.75,505.99 299.00,512.06 299.25,512.45 299.50,512.24 299.75,511.99 300.00,512.25 300.25,512.63 300.50,512.18 300.75,512.26 301.00,511.27 301.25,507.86 301.50,507.74 301.75,507.75 302.00,507.88 302.25,511.31 302.50,511.53 302.75,512.33 303.00,512.13 303.25,512.31 303.50,512.05 303.75,508.54 304.00,508.27 304.25,508.18 304.50,508.19 304.75,508.31 305.00,506.86 305.25,506.61 305.50,505.66 305.75,505.45 306.00,505.42 306.25,505.50 306.50,497.12 306.75,496.96 307.00,496.91 307.25,496.96 307.50,497.12 307.75,507.61 308.00,507.62 308.25,507.72 308.50,507.96 308.75,508.40 309.00,508.49 309.25,508.25 309.50,508.15 309.75,508.13 310.00,508.19 310.25,508.36 310.50,508.82 310.75,509.33 310.80,526.10" fill="#5c5c5c"/>
<g fill="#5c5c5c"><circle cx="299.2" cy="512.1" r="0.8"/><circle cx="298.3" cy="501.4" r="0.8"/><circle cx="308.1" cy="507.9" r="0.8"/><circle cx="304.4" cy="506.9" r="0.8"/><circle cx="307.6" cy="497.3" r="0.8"/><circle cx="309.4" cy="509.3" r="0.8"/><circle cx="309.2" cy="508.4" r="0.8"/><circle cx="306.8" cy="495.6" r="0.8"/><circle cx="296.3" cy="498.9" r="0.8"/><circle cx="305.4" cy="507.7" r="0.8"/><circle cx="300.0" cy="512.0" r="0.8"/><circle cx="307.1" cy="497.0" r="0.8"/><circle cx="308.0" cy="507.1" r="0.8"/><circle cx="307.9" cy="508.4" r="0.8"/><circle cx="308.8" cy="507.9" r="0.8"/><circle cx="308.9" cy="507.7" r="0.8"/><circle cx="304.3" cy="509.3" r="0.8"/><circle cx="305.0" cy="506.9" r="0.8"/></g>
<circle cx="300.70" cy="493.86" r="1.3" fill="#5c5c5c"/>
<circle cx="303.60" cy="496.35" r="1.3" fill="#5c5c5c"/>
<circle cx="303.60" cy="499.54" r="1.3" fill="#5c5c5c"/>
<circle cx="304.80" cy="502.38" r="1.3" fill="#5c5c5c"/>
<circle cx="310.50" cy="500.25" r="1.3" fill="#5c5c5c"/>
<polygon points="310.80,526.10 310.80,511.73 311.05,511.77 311.30,500.24 311.55,499.70 311.80,499.57 312.05,499.54 312.30,499.61 312.55,499.81 312.80,506.40 313.05,506.38 313.30,506.47 313.55,506.78 313.80,513.26 314.05,509.40 314.30,498.82 314.55,498.28 314.80,498.15 315.05,498.12 315.30,498.19 315.55,498.39 315.80,498.82 316.05,498.28 316.30,498.15 316.55,498.12 316.80,498.19 317.05,498.39 317.30,510.62 317.55,508.28 317.80,502.72 318.05,502.47 318.30,502.39 318.55,502.40 318.80,502.51 319.05,502.82 319.30,506.19 319.55,506.14 319.80,506.19 320.05,506.39 320.30,512.03 320.55,508.15 320.80,507.86 321.05,507.77 321.30,507.76 321.55,507.86 321.80,508.14 322.05,508.63 322.30,508.65 322.55,508.75 322.80,508.97 323.05,512.47 323.30,512.39 323.55,512.18 323.80,511.80 324.05,511.94 324.30,512.15 324.55,512.54 324.80,512.06 325.05,512.09 325.30,498.46 325.55,498.21 325.80,498.13 326.05,498.14 326.30,498.25 326.55,498.56 326.80,506.66 327.05,511.55 327.10,526.10" fill="#a9a9a9"/>
<g fill="#a9a9a9"><circle cx="312.7" cy="500.1" r="0.8"/><circle cx="325.9" cy="498.6" r="0.8"/><circle cx="326.4" cy="498.7" r="0.8"/><circle cx="316.4" cy="498.8" r="0.8"/><circle cx="320.0" cy="504.8" r="0.8"/><circle cx="316.9" cy="499.2" r="0.8"/><circle cx="321.3" cy="507.2" r="0.8"/><circle cx="322.1" cy="508.9" r="0.8"/><circle cx="313.8" cy="506.5" r="0.8"/><circle cx="323.6" cy="510.9" r="0.8"/><circle cx="319.7" cy="504.9" r="0.8"/><circle cx="315.6" cy="498.9" r="0.8"/><circle cx="316.8" cy="498.9" r="0.8"/><circle cx="322.4" cy="508.8" r="0.8"/><circle cx="313.7" cy="506.4" r="0.8"/><circle cx="324.7" cy="512.7" r="0.8"/><circle cx="312.4" cy="499.4" r="0.8"/><circle cx="318.5" cy="502.2" r="0.8"/><circle cx="317.7" cy="509.0" r="0.8"/></g>
<polygon points="327.10,526.10 327.10,514.78 327.35,514.88 327.60,514.80 327.85,507.08 328.10,506.77 328.35,506.66 328.60,506.65 328.85,506.73 329.10,506.98 329.35,512.01 329.60,511.76 329.85,510.90 330.10,510.52 330.35,509.28 330.60,508.77 330.85,508.62 331.10,508.57 331.35,508.60 331.60,508.45 331.85,508.13 332.10,507.39 332.35,507.27 332.60,507.26 332.85,504.24 333.10,503.93 333.35,503.82 333.60,503.81 333.85,503.89 334.10,498.82 334.35,498.28 334.60,498.15 334.85,498.12 335.10,498.19 335.35,498.39 335.60,509.87 335.85,509.81 336.10,509.81 336.35,509.88 336.60,509.83 336.85,509.81 337.10,509.89 337.35,510.21 337.60,510.63 337.85,512.84 338.10,513.04 338.35,512.91 338.60,512.62 338.85,512.98 339.10,509.95 339.35,509.47 339.60,509.29 339.85,504.24 340.10,503.93 340.35,503.82 340.60,503.81 340.85,503.89 341.10,504.14 341.35,508.72 341.60,509.79 341.85,509.82 342.10,509.94 342.10,526.10" fill="#5c5c5c"/>
<g fill="#5c5c5c"><circle cx="335.6" cy="497.2" r="0.8"/><circle cx="335.4" cy="498.5" r="0.8"/><circle cx="333.7" cy="503.2" r="0.8"/><circle cx="331.0" cy="507.2" r="0.8"/><circle cx="336.0" cy="508.8" r="0.8"/><circle cx="328.8" cy="507.8" r="0.8"/><circle cx="340.0" cy="503.7" r="0.8"/><circle cx="334.2" cy="497.8" r="0.8"/><circle cx="341.3" cy="503.4" r="0.8"/><circle cx="339.2" cy="510.4" r="0.8"/><circle cx="327.9" cy="505.6" r="0.8"/><circle cx="333.8" cy="502.3" r="0.8"/><circle cx="340.4" cy="504.9" r="0.8"/><circle cx="336.2" cy="509.1" r="0.8"/><circle cx="330.6" cy="507.6" r="0.8"/><circle cx="335.5" cy="497.2" r="0.8"/><circle cx="330.7" cy="509.2" r="0.8"/><circle cx="339.7" cy="509.5" r="0.8"/></g>
<circle cx="338.90" cy="502.59" r="1.3" fill="#5c5c5c"/>
<polygon points="342.10,526.10 342.10,513.10 342.35,512.90 342.60,513.07 342.85,513.08 343.10,512.79 343.35,512.49 343.60,512.72 343.85,509.40 344.10,509.21 344.35,502.65 344.60,502.45 344.85,502.38 345.10,502.41 345.35,502.54 345.60,508.93 345.85,508.84 346.10,508.84 346.35,508.90 346.60,509.06 346.85,509.41 347.10,509.57 347.35,510.05 347.60,510.41 347.85,510.14 348.10,510.07 348.35,506.60 348.60,506.43 348.85,506.38 349.10,506.42 349.35,506.57 349.60,514.15 349.85,514.38 350.10,514.54 350.35,514.39 350.60,514.00 350.85,513.85 351.10,508.19 351.35,507.95 351.60,507.82 351.85,507.78 352.10,507.79 352.35,507.88 352.60,507.80 352.85,507.57 353.10,507.52 353.35,507.61 353.60,508.79 353.85,508.78 354.10,504.50 354.35,503.96 354.60,503.83 354.85,503.80 355.10,503.87 355.35,504.07 355.60,506.95 355.85,506.60 356.10,506.50 356.35,506.52 356.60,506.67 356.85,510.64 357.10,510.66 357.10,526.10" fill="#a9a9a9"/>
<g fill="#a9a9a9"><circle cx="355.1" cy="502.2" r="0.8"/><circle cx="346.2" cy="508.6" r="0.8"/><circle cx="346.7" cy="509.0" r="0.8"/><circle cx="345.2" cy="503.0" r="0.8"/><circle cx="350.8" cy="514.2" r="0.8"/><circle cx="356.2" cy="505.4" r="0.8"/><circle cx="349.1" cy="505.3" r="0.8"/><circle cx="346.8" cy="508.9" r="0.8"/><circle cx="353.2" cy="506.4" r="0.8"/><circle cx="353.9" cy="509.2" r="0.8"/><circle cx="349.3" cy="507.3" r="0.8"/><circle cx="348.6" cy="507.7" r="0.8"/><circle cx="356.0" cy="506.2" r="0.8"/><circle cx="355.9" cy="507.2" r="0.8"/><circle cx="350.0" cy="514.5" r="0.8"/><circle cx="353.8" cy="509.9" r="0.8"/><circle cx="355.2" cy="504.9" r="0.8"/><circle cx="348.3" cy="508.5" r="0.8"/></g>
<circle cx="344.90" cy="486.33" r="1.3" fill="#a9a9a9"/>
<circle cx="344.90" cy="489.60" r="1.3" fill="#a9a9a9"/>
<circle cx="344.90" cy="493.15" r="1.3" fill="#a9a9a9"/>
<circle cx="344.90" cy="496.70" r="1.3" fill="#a9a9a9"/>
<circle cx="344.90" cy="499.54" r="1.3" fill="#a9a9a9"/>
<polygon points="357.10,526.10 357.10,507.13 357.35,507.09 357.60,507.13 357.85,507.24 358.10,507.48 358.35,508.98 358.60,509.21 358.85,512.64 359.10,511.89 359.35,508.48 359.60,508.25 359.85,507.95 360.10,507.04 360.35,506.94 360.60,506.95 360.85,507.09 361.10,508.05 361.35,513.57 361.60,513.00 361.85,513.48 362.10,509.39 362.35,508.74 362.60,507.46 362.85,507.27 363.10,506.27 363.35,506.18 363.60,506.23 363.85,498.56 364.10,498.25 364.35,498.14 364.60,498.13 364.85,498.21 365.10,498.46 365.35,502.82 365.60,502.51 365.85,502.40 366.10,502.39 366.35,502.47 366.60,502.72 366.85,507.71 367.10,507.81 367.35,508.02 367.60,510.00 367.85,510.04 368.10,509.79 368.35,509.61 368.60,509.57 368.85,509.64 369.10,509.92 369.35,511.57 369.60,511.15 369.85,511.31 370.10,511.35 370.35,511.31 370.40,526.10" fill="#5c5c5c"/>
<g fill="#5c5c5c"><circle cx="358.4" cy="509.4" r="0.8"/><circle cx="369.6" cy="510.8" r="0.8"/><circle cx="367.8" cy="509.9" r="0.8"/><circle cx="367.2" cy="508.2" r="0.8"/><circle cx="361.4" cy="513.3" r="0.8"/><circle cx="358.9" cy="511.4" r="0.8"/><circle cx="361.2" cy="508.5" r="0.8"/><circle cx="362.5" cy="509.6" r="0.8"/><circle cx="365.7" cy="503.5" r="0.8"/><circle cx="367.3" cy="507.4" r="0.8"/><circle cx="359.0" cy="512.4" r="0.8"/><circle cx="363.9" cy="497.3" r="0.8"/><circle cx="359.5" cy="509.6" r="0.8"/><circle cx="367.7" cy="509.4" r="0.8"/><circle cx="358.0" cy="506.4" r="0.8"/></g>
<circle cx="360.50" cy="502.38" r="1.3" fill="#5c5c5c"/>
<circle cx="368.80" cy="505.93" r="1.3" fill="#5c5c5c"/>
<circle cx="368.80" cy="502.38" r="1.3" fill="#5c5c5c"/>
<polygon points="370.40,526.10 370.40,508.74 370.65,508.75 370.90,508.91 371.15,513.76 371.40,513.39 371.65,513.48 371.90,513.31 372.15,504.07 372.40,503.87 372.65,503.80 372.90,503.83 373.15,503.96 373.40,504.50 373.65,506.73 373.90,506.65 374.15,506.67 374.40,506.81 374.65,508.19 374.90,508.08 375.15,507.92 375.40,507.87 375.65,507.90 375.90,507.76 376.15,507.64 376.40,507.65 376.65,507.78 376.90,512.87 377.15,507.08 377.40,506.77 377.65,506.66 377.90,506.65 378.15,506.73 378.40,506.98 378.65,507.62 378.90,507.39 379.15,507.28 379.40,507.26 379.65,507.32 379.90,507.47 380.15,507.86 380.40,508.42 380.65,513.31 380.90,508.15 381.15,507.86 381.40,507.76 381.65,507.75 381.90,507.85 382.15,508.11 382.40,508.26 382.65,508.07 382.90,507.98 383.10,526.10" fill="#a9a9a9"/>
<g fill="#a9a9a9"><circle cx="371.8" cy="514.4" r="0.8"/><circle cx="377.8" cy="505.8" r="0.8"/><circle cx="372.1" cy="511.8" r="0.8"/><circle cx="381.0" cy="506.9" r="0.8"/><circle cx="373.5" cy="504.5" r="0.8"/><circle cx="371.8" cy="513.9" r="0.8"/><circle cx="378.4" cy="507.2" r="0.8"/><circle cx="375.1" cy="507.3" r="0.8"/><circle cx="379.9" cy="508.5" r="0.8"/><circle cx="377.9" cy="507.6" r="0.8"/><circle cx="372.8" cy="504.3" r="0.8"/><circle cx="373.7" cy="505.9" r="0.8"/><circle cx="371.4" cy="514.8" r="0.8"/><circle cx="372.7" cy="502.8" r="0.8"/><circle cx="375.0" cy="507.7" r="0.8"/></g>
<polygon points="383.10,526.10 383.10,507.54 383.35,507.57 383.60,505.91 383.85,505.67 384.10,505.58 384.35,505.59 384.60,505.70 384.85,506.02 385.10,510.71 385.35,510.90 385.60,513.19 385.85,512.87 386.10,512.62 386.35,513.31 386.60,513.23 386.85,508.26 387.10,508.06 387.35,507.57 387.60,507.32 387.85,526.10 388.10,526.10 388.35,526.10 388.60,526.10 388.85,526.10 389.10,509.65 389.35,509.71 389.60,509.87 389.85,509.76 390.10,509.53 390.35,508.59 390.60,508.41 390.85,508.35 391.10,508.37 391.35,508.49 391.60,508.79 391.85,510.58 392.10,505.92 392.35,505.38 392.60,505.25 392.85,505.22 393.10,505.29 393.35,505.49 393.60,509.79 393.85,509.95 394.10,513.37 394.35,513.32 394.60,513.27 394.85,512.87 395.00,526.10" fill="#5c5c5c"/>
<g fill="#5c5c5c"><circle cx="386.3" cy="512.4" r="0.8"/><circle cx="385.1" cy="509.1" r="0.8"/><circle cx="385.4" cy="511.8" r="0.8"/><circle cx="384.0" cy="504.4" r="0.8"/><circle cx="393.7" cy="508.9" r="0.8"/><circle cx="390.3" cy="508.0" r="0.8"/><circle cx="391.1" cy="508.2" r="0.8"/><circle cx="392.5" cy="505.7" r="0.8"/><circle cx="390.8" cy="508.2" r="0.8"/><circle cx="389.8" cy="510.4" r="0.8"/><circle cx="390.8" cy="507.2" r="0.8"/><circle cx="393.0" cy="505.3" r="0.8"/></g>
<circle cx="390.00" cy="497.77" r="1.3" fill="#5c5c5c"/>
<circle cx="390.00" cy="503.80" r="1.3" fill="#5c5c5c"/>
<polygon points="395.00,526.10 395.00,511.51 395.25,508.21 395.50,508.05 395.75,508.04 396.00,508.15 396.25,508.05 396.50,507.86 396.75,507.80 397.00,507.83 397.25,507.96 397.50,505.26 397.75,504.97 398.00,504.85 398.25,504.82 398.50,504.86 398.75,504.99 399.00,505.28 399.25,505.69 399.50,505.74 399.75,505.94 400.00,505.94 400.25,505.74 400.50,505.68 400.75,505.71 401.00,505.87 401.25,507.89 401.50,501.88 401.75,501.72 402.00,501.67 402.25,501.72 402.50,501.88 402.75,506.75 403.00,500.46 403.25,500.30 403.50,500.25 403.75,500.30 404.00,500.46 404.25,508.91 404.50,503.30 404.75,503.14 405.00,503.09 405.25,503.14 405.50,503.30 405.75,505.12 406.00,505.23 406.25,505.45 406.50,509.90 406.75,510.16 407.00,510.35 407.25,510.18 407.50,510.64 407.50,526.10" fill="#a9a9a9"/>
<g fill="#a9a9a9"><circle cx="404.4" cy="508.8" r="0.8"/><circle cx="403.3" cy="501.3" r="0.8"/><circle cx="402.9" cy="505.2" r="0.8"/><circle cx="396.3" cy="507.5" r="0.8"/><circle cx="400.5" cy="505.8" r="0.8"/><circle cx="400.3" cy="505.3" r="0.8"/><circle cx="396.3" cy="508.8" r="0.8"/><circle cx="401.3" cy="508.9" r="0.8"/><circle cx="405.8" cy="506.2" r="0.8"/><circle cx="402.9" cy="505.3" r="0.8"/><circle cx="400.2" cy="505.7" r="0.8"/><circle cx="398.3" cy="503.3" r="0.8"/><circle cx="403.9" cy="500.9" r="0.8"/><circle cx="397.6" cy="503.7" r="0.8"/><circle cx="403.8" cy="500.6" r="0.8"/></g>
<circle cx="404.40" cy="476.11" r="1.3" fill="#a9a9a9"/>
<circle cx="404.40" cy="498.12" r="1.3" fill="#a9a9a9"/>
<circle cx="402.00" cy="499.54" r="1.3" fill="#a9a9a9"/>
<polygon points="407.50,526.10 407.50,508.87 407.75,507.59 408.00,507.44 408.25,507.41 408.50,507.30 408.75,507.16 409.00,504.79 409.25,504.56 409.50,504.47 409.75,504.46 410.00,504.37 410.25,504.22 410.50,504.17 410.75,504.22 411.00,504.25 411.25,504.12 411.50,504.10 411.75,504.16 412.00,503.50 412.25,503.17 412.50,503.10 412.75,503.14 413.00,503.35 413.25,505.83 413.50,504.47 413.75,504.37 414.00,504.41 414.25,504.65 414.50,502.59 414.75,502.43 415.00,502.38 415.25,502.43 415.50,496.20 415.75,496.04 416.00,495.99 416.25,496.04 416.50,496.20 416.75,508.36 417.00,508.34 417.25,508.40 417.50,508.66 417.75,508.91 418.00,508.88 418.25,508.85 418.50,506.23 418.75,505.97 419.00,505.85 419.25,505.80 419.50,505.82 419.50,526.10" fill="#5c5c5c"/>
<g fill="#5c5c5c"><circle cx="417.4" cy="507.3" r="0.8"/><circle cx="417.6" cy="507.4" r="0.8"/><circle cx="411.6" cy="503.7" r="0.8"/><circle cx="418.5" cy="508.3" r="0.8"/><circle cx="411.7" cy="502.6" r="0.8"/><circle cx="410.6" cy="504.4" r="0.8"/><circle cx="415.9" cy="495.6" r="0.8"/><circle cx="418.2" cy="507.4" r="0.8"/><circle cx="415.0" cy="501.8" r="0.8"/><circle cx="413.6" cy="503.8" r="0.8"/><circle cx="409.6" cy="503.3" r="0.8"/><circle cx="409.1" cy="504.8" r="0.8"/><circle cx="418.7" cy="505.0" r="0.8"/><circle cx="417.6" cy="508.9" r="0.8"/></g>
<circle cx="416.00" cy="498.83" r="1.3" fill="#5c5c5c"/>
<circle cx="416.00" cy="500.96" r="1.3" fill="#5c5c5c"/>
<circle cx="413.60" cy="503.09" r="1.3" fill="#5c5c5c"/>
<polygon points="419.50,526.10 419.50,513.51 419.75,512.78 420.00,512.61 420.25,510.51 420.50,499.04 420.75,498.88 421.00,498.83 421.25,498.88 421.50,499.04 421.75,508.50 422.00,499.75 422.25,499.59 422.50,499.54 422.75,499.59 423.00,499.75 423.25,501.01 423.50,500.96 423.75,501.01 424.00,501.17 424.25,508.45 424.50,508.59 424.75,508.92 425.00,514.36 425.25,509.05 425.50,508.72 425.75,508.63 426.00,508.64 426.25,508.76 426.50,509.94 426.75,510.07 427.00,510.37 427.25,514.37 427.50,513.61 427.75,513.56 428.00,513.52 428.25,505.88 428.50,505.75 428.75,505.73 429.00,505.81 429.25,506.05 429.50,510.06 429.75,509.96 430.00,509.95 430.25,510.03 430.50,510.24 430.75,508.13 431.00,507.91 431.25,507.80 431.50,507.77 431.60,526.10" fill="#a9a9a9"/>
<g fill="#a9a9a9"><circle cx="429.9" cy="508.5" r="0.8"/><circle cx="428.2" cy="512.1" r="0.8"/><circle cx="420.3" cy="511.4" r="0.8"/><circle cx="421.4" cy="497.5" r="0.8"/><circle cx="429.0" cy="505.0" r="0.8"/><circle cx="425.0" cy="509.0" r="0.8"/><circle cx="425.6" cy="509.2" r="0.8"/><circle cx="424.8" cy="509.5" r="0.8"/><circle cx="423.7" cy="499.7" r="0.8"/><circle cx="428.5" cy="506.8" r="0.8"/><circle cx="429.3" cy="504.7" r="0.8"/><circle cx="425.2" cy="514.6" r="0.8"/><circle cx="426.5" cy="509.5" r="0.8"/><circle cx="430.9" cy="508.3" r="0.8"/></g>
<circle cx="428.50" cy="500.25" r="1.3" fill="#a9a9a9"/>
<polygon points="431.60,526.10 431.60,514.25 431.85,513.96 432.10,513.87 432.35,502.11 432.60,501.80 432.85,501.69 433.10,501.68 433.35,501.76 433.60,502.01 433.85,512.06 434.10,510.44 434.35,510.21 434.60,510.12 434.85,510.12 435.10,510.22 435.35,510.50 435.60,514.26 435.85,514.56 436.10,515.25 436.35,510.39 436.60,510.22 436.85,510.18 437.10,510.23 437.35,510.41 437.60,510.78 437.85,510.56 438.10,510.13 438.35,502.82 438.60,502.51 438.85,502.40 439.10,502.39 439.35,502.47 439.60,502.72 439.85,510.46 440.10,511.02 440.20,526.10" fill="#5c5c5c"/>
<g fill="#5c5c5c"><circle cx="434.7" cy="510.4" r="0.8"/><circle cx="438.6" cy="502.4" r="0.8"/><circle cx="438.8" cy="502.3" r="0.8"/><circle cx="432.7" cy="501.6" r="0.8"/><circle cx="435.0" cy="509.5" r="0.8"/><circle cx="435.7" cy="515.1" r="0.8"/><circle cx="437.9" cy="511.1" r="0.8"/><circle cx="433.6" cy="502.2" r="0.8"/><circle cx="437.8" cy="509.8" r="0.8"/><circle cx="439.2" cy="501.9" r="0.8"/></g>
<polygon points="440.20,526.10 440.20,510.91 440.45,510.79 440.70,510.74 440.95,510.76 441.20,510.85 441.45,511.03 441.70,511.48 441.95,512.36 442.20,511.97 442.45,511.81 442.70,511.73 442.95,506.91 443.20,506.71 443.45,506.64 443.70,506.67 443.95,506.80 444.20,507.34 444.45,513.69 444.70,513.54 444.95,513.99 445.20,514.23 445.45,514.26 445.70,509.77 445.95,506.91 446.20,506.71 446.45,506.64 446.70,506.67 446.95,506.80 447.20,507.34 447.45,509.87 447.70,510.68 447.95,510.96 448.20,513.26 448.45,513.12 448.70,513.10 448.95,513.19 449.20,513.50 449.30,526.10" fill="#a9a9a9"/>
<g fill="#a9a9a9"><circle cx="442.1" cy="513.4" r="0.8"/><circle cx="445.6" cy="515.0" r="0.8"/><circle cx="447.0" cy="505.3" r="0.8"/><circle cx="447.7" cy="510.9" r="0.8"/><circle cx="444.7" cy="513.5" r="0.8"/><circle cx="444.8" cy="514.4" r="0.8"/><circle cx="443.0" cy="505.5" r="0.8"/><circle cx="442.2" cy="512.7" r="0.8"/><circle cx="443.9" cy="506.2" r="0.8"/><circle cx="448.2" cy="510.8" r="0.8"/></g>
<polygon points="449.30,526.10 449.30,506.61 449.55,506.47 449.80,506.41 450.05,506.42 450.30,506.50 450.55,506.69 450.80,500.95 451.05,500.41 451.30,500.28 451.55,500.25 451.80,500.32 452.05,500.52 452.30,509.46 452.55,509.20 452.80,509.09 453.05,509.06 453.30,509.11 453.55,509.11 453.80,509.19 454.05,509.48 454.30,506.23 454.55,506.09 454.80,506.09 455.05,506.23 455.30,501.66 455.55,501.12 455.80,500.99 456.05,500.96 456.30,501.03 456.55,501.23 456.80,507.00 457.05,507.06 457.30,507.26 457.40,526.10" fill="#5c5c5c"/>
<g fill="#5c5c5c"><circle cx="452.2" cy="499.2" r="0.8"/><circle cx="455.7" cy="499.8" r="0.8"/><circle cx="456.4" cy="500.3" r="0.8"/><circle cx="456.4" cy="499.5" r="0.8"/><circle cx="450.3" cy="507.4" r="0.8"/><circle cx="451.2" cy="499.4" r="0.8"/><circle cx="453.3" cy="509.0" r="0.8"/><circle cx="451.2" cy="501.3" r="0.8"/><circle cx="450.5" cy="505.3" r="0.8"/></g>
<polygon points="457.40,526.10 457.40,509.76 457.65,509.61 457.90,509.54 458.15,509.54 458.40,509.61 458.65,509.79 458.90,510.24 459.15,512.15 459.40,512.19 459.65,512.31 459.90,502.01 460.15,501.76 460.40,501.68 460.65,501.69 460.90,501.80 461.15,502.11 461.40,502.72 461.65,502.47 461.90,502.39 462.15,502.40 462.40,502.51 462.65,502.82 462.90,509.12 463.15,509.56 463.40,509.36 463.65,509.34 463.90,509.46 464.15,509.53 464.40,509.52 464.65,509.59 464.90,509.82 465.15,512.00 465.40,512.15 465.50,526.10" fill="#a9a9a9"/>
<g fill="#a9a9a9"><circle cx="463.7" cy="508.5" r="0.8"/><circle cx="459.2" cy="512.7" r="0.8"/><circle cx="462.9" cy="508.5" r="0.8"/><circle cx="462.9" cy="501.6" r="0.8"/><circle cx="458.3" cy="510.3" r="0.8"/><circle cx="461.3" cy="502.6" r="0.8"/><circle cx="461.7" cy="502.2" r="0.8"/><circle cx="464.3" cy="510.6" r="0.8"/><circle cx="461.3" cy="501.5" r="0.8"/></g>
<circle cx="459.00" cy="498.48" r="1.3" fill="#a9a9a9"/>
<circle cx="462.00" cy="498.48" r="1.3" fill="#a9a9a9"/>
<polygon points="465.50,526.10 465.50,513.13 465.75,513.25 466.00,508.34 466.25,508.13 466.50,500.59 466.75,500.06 467.00,499.92 467.25,499.90 467.50,499.96 467.75,500.16 468.00,509.81 468.25,509.62 468.50,509.21 468.75,502.82 469.00,502.51 469.25,502.40 469.50,502.39 469.75,502.47 470.00,502.72 470.25,508.75 470.50,508.90 470.75,509.10 471.00,509.65 471.25,512.61 471.50,512.30 471.75,511.88 472.00,511.50 472.25,511.33 472.50,511.26 472.75,511.25 473.00,511.31 473.25,511.46 473.50,511.77 473.60,526.10" fill="#5c5c5c"/>
<g fill="#5c5c5c"><circle cx="469.3" cy="502.7" r="0.8"/><circle cx="471.7" cy="513.4" r="0.8"/><circle cx="467.5" cy="499.8" r="0.8"/><circle cx="468.0" cy="509.2" r="0.8"/><circle cx="470.1" cy="503.0" r="0.8"/><circle cx="466.3" cy="506.8" r="0.8"/><circle cx="471.7" cy="511.8" r="0.8"/><circle cx="466.3" cy="508.0" r="0.8"/><circle cx="469.1" cy="501.8" r="0.8"/></g>
<circle cx="472.60" cy="497.77" r="1.3" fill="#5c5c5c"/>
<polygon points="473.60,526.10 473.60,512.85 473.85,512.69 474.10,512.59 474.35,512.50 474.60,512.69 474.85,510.22 475.10,509.82 475.35,509.73 475.60,509.77 475.85,509.97 476.10,510.62 476.35,507.62 476.60,507.42 476.85,507.35 477.10,507.38 477.35,507.51 477.60,510.66 477.85,510.67 478.10,510.75 478.35,510.77 478.60,510.51 478.85,510.38 479.10,509.94 479.35,509.81 479.60,509.79 479.85,509.89 480.10,510.21 480.35,510.87 480.60,510.50 480.85,510.38 481.10,510.38 481.35,510.47 481.60,510.77 481.60,526.10" fill="#a9a9a9"/>
<g fill="#a9a9a9"><circle cx="475.2" cy="508.4" r="0.8"/><circle cx="475.6" cy="508.9" r="0.8"/><circle cx="476.5" cy="507.5" r="0.8"/><circle cx="474.9" cy="509.5" r="0.8"/><circle cx="475.9" cy="510.1" r="0.8"/><circle cx="478.3" cy="511.4" r="0.8"/><circle cx="479.5" cy="509.0" r="0.8"/><circle cx="478.9" cy="509.8" r="0.8"/><circle cx="477.3" cy="507.7" r="0.8"/></g>
<circle cx="476.90" cy="505.93" r="1.3" fill="#a9a9a9"/>
<circle cx="480.70" cy="507.49" r="1.3" fill="#a9a9a9"/>
<polygon points="481.60,526.10 481.60,512.70 481.85,510.31 482.10,509.84 482.35,509.67 482.60,509.60 482.85,509.60 483.10,509.67 483.35,507.81 483.60,507.30 483.85,507.13 484.10,507.06 484.35,507.07 484.60,507.16 484.85,507.36 485.10,503.43 485.35,503.18 485.60,503.10 485.85,503.11 486.10,503.22 486.35,503.53 486.60,506.11 486.85,503.53 487.10,503.22 487.35,503.11 487.60,503.10 487.85,503.18 488.10,503.43 488.35,508.31 488.60,508.36 488.70,526.10" fill="#5c5c5c"/>
<g fill="#5c5c5c"><circle cx="483.5" cy="508.2" r="0.8"/><circle cx="487.8" cy="504.1" r="0.8"/><circle cx="487.4" cy="501.9" r="0.8"/><circle cx="487.8" cy="502.6" r="0.8"/><circle cx="483.0" cy="508.2" r="0.8"/><circle cx="486.4" cy="503.4" r="0.8"/><circle cx="485.3" cy="502.5" r="0.8"/><circle cx="486.0" cy="503.6" r="0.8"/></g>
<circle cx="483.90" cy="497.41" r="1.3" fill="#5c5c5c"/>
<circle cx="483.90" cy="502.03" r="1.3" fill="#5c5c5c"/>
<polygon points="488.70,526.10 488.70,507.32 488.95,507.33 489.20,507.44 489.45,507.76 489.70,508.05 489.95,512.09 490.20,509.73 490.45,509.49 490.70,509.38 490.95,509.35 491.20,509.39 491.45,507.27 491.70,507.06 491.95,506.96 492.20,506.93 492.45,506.97 492.70,507.09 492.95,507.34 493.20,512.02 493.45,508.62 493.70,508.46 493.95,508.42 494.20,508.47 494.45,507.14 494.70,505.64 494.95,505.46 495.20,505.43 495.45,505.50 495.70,505.81 495.80,526.10" fill="#a9a9a9"/>
<g fill="#a9a9a9"><circle cx="493.1" cy="507.4" r="0.8"/><circle cx="494.0" cy="507.8" r="0.8"/><circle cx="494.4" cy="508.8" r="0.8"/><circle cx="494.1" cy="509.5" r="0.8"/><circle cx="493.4" cy="512.4" r="0.8"/><circle cx="494.1" cy="508.6" r="0.8"/><circle cx="494.5" cy="506.8" r="0.8"/><circle cx="490.8" cy="508.6" r="0.8"/></g>
<circle cx="492.50" cy="503.45" r="1.3" fill="#a9a9a9"/>
<circle cx="494.70" cy="503.45" r="1.3" fill="#a9a9a9"/>
<polygon points="495.80,526.10 495.80,513.26 496.05,513.00 496.30,508.99 496.55,508.82 496.80,508.78 497.05,508.83 497.30,509.01 497.55,510.71 497.80,505.92 498.05,505.38 498.30,505.25 498.55,505.22 498.80,505.29 499.05,505.49 499.30,509.28 499.55,509.19 499.80,509.18 500.05,509.23 500.30,509.35 500.55,509.61 500.80,510.47 500.80,526.10" fill="#5c5c5c"/>
<g fill="#5c5c5c"><circle cx="499.9" cy="510.0" r="0.8"/><circle cx="499.6" cy="510.0" r="0.8"/><circle cx="496.4" cy="509.9" r="0.8"/><circle cx="499.7" cy="508.1" r="0.8"/><circle cx="499.9" cy="509.4" r="0.8"/><circle cx="497.2" cy="509.7" r="0.8"/></g>
<circle cx="499.30" cy="503.09" r="1.3" fill="#5c5c5c"/>
<polygon points="500.80,526.10 500.80,505.21 501.05,505.18 501.30,505.23 501.55,505.36 501.80,505.66 502.05,508.21 502.30,508.26 502.55,508.45 502.80,509.65 503.05,505.49 503.30,505.29 503.55,505.22 503.80,505.25 504.05,505.38 504.30,505.34 504.55,505.38 504.80,505.55 505.05,512.04 505.30,511.82 505.55,511.50 505.80,511.62 505.90,526.10" fill="#a9a9a9"/>
<g fill="#a9a9a9"><circle cx="504.6" cy="504.5" r="0.8"/><circle cx="502.2" cy="508.4" r="0.8"/><circle cx="503.9" cy="504.9" r="0.8"/><circle cx="504.6" cy="504.5" r="0.8"/><circle cx="504.9" cy="505.5" r="0.8"/><circle cx="504.3" cy="504.5" r="0.8"/></g>
<circle cx="503.60" cy="499.54" r="1.3" fill="#a9a9a9"/>
<circle cx="503.60" cy="502.38" r="1.3" fill="#a9a9a9"/>
<polygon points="505.90,526.10 505.90,513.10 506.15,513.16 506.40,513.52 506.65,511.39 506.90,511.11 507.15,511.06 507.40,510.62 507.65,509.15 507.90,509.02 508.15,509.02 508.40,509.16 508.65,510.05 508.90,510.19 509.15,510.58 509.40,511.06 509.65,511.08 509.90,510.98 510.15,510.96 510.40,511.03 510.65,510.71 510.90,510.18 511.15,510.01 511.40,509.35 511.65,509.06 511.90,508.94 512.15,508.91 512.40,508.96 512.65,509.11 512.90,509.57 513.15,509.99 513.40,509.88 513.65,509.86 513.90,509.91 514.15,510.08 514.40,511.60 514.65,511.13 514.90,510.96 515.15,510.90 515.40,510.91 515.65,510.99 515.90,510.91 516.15,510.92 516.40,511.03 516.65,511.34 516.90,512.21 517.15,512.22 517.40,512.30 517.65,512.49 517.90,510.64 518.15,510.56 518.40,510.60 518.65,510.86 518.90,512.49 519.15,512.32 519.40,512.25 519.60,526.10" fill="#5c5c5c"/>
<g fill="#5c5c5c"><circle cx="511.3" cy="509.1" r="0.8"/><circle cx="508.9" cy="509.0" r="0.8"/><circle cx="518.6" cy="510.3" r="0.8"/><circle cx="508.9" cy="509.2" r="0.8"/><circle cx="514.7" cy="510.9" r="0.8"/><circle cx="515.6" cy="512.1" r="0.8"/><circle cx="510.8" cy="511.7" r="0.8"/><circle cx="509.6" cy="510.1" r="0.8"/><circle cx="518.7" cy="511.3" r="0.8"/><circle cx="515.8" cy="512.0" r="0.8"/><circle cx="512.5" cy="508.7" r="0.8"/><circle cx="509.1" cy="510.1" r="0.8"/><circle cx="513.9" cy="510.0" r="0.8"/><circle cx="510.8" cy="509.5" r="0.8"/><circle cx="510.5" cy="509.7" r="0.8"/><circle cx="507.1" cy="509.9" r="0.8"/></g>
<circle cx="507.60" cy="508.77" r="1.3" fill="#5c5c5c"/>
<circle cx="517.80" cy="492.72" r="1.3" fill="#5c5c5c"/>
<circle cx="517.80" cy="503.80" r="1.3" fill="#5c5c5c"/>
<circle cx="517.80" cy="507.35" r="1.3" fill="#5c5c5c"/>
<circle cx="514.60" cy="510.90" r="1.3" fill="#5c5c5c"/>
<text x="265.50" y="531.90" font-size="5.2" text-anchor="middle" fill="#000" stroke="#000" stroke-width="0.25">1</text>
<text x="284.60" y="531.90" font-size="5.2" text-anchor="middle" fill="#000" stroke="#000" stroke-width="0.25">2</text>
<text x="303.00" y="531.90" font-size="5.2" text-anchor="middle" fill="#000" stroke="#000" stroke-width="0.25">3</text>
<text x="319.20" y="531.90" font-size="5.2" text-anchor="middle" fill="#000" stroke="#000" stroke-width="0.25">4</text>
<text x="334.40" y="531.90" font-size="5.2" text-anchor="middle" fill="#000" stroke="#000" stroke-width="0.25">5</text>
<text x="349.20" y="531.90" font-size="5.2" text-anchor="middle" fill="#000" stroke="#000" stroke-width="0.25">6</text>
<text x="363.30" y="531.90" font-size="5.2" text-anchor="middle" fill="#000" stroke="#000" stroke-width="0.25">7</text>
<text x="376.20" y="531.90" font-size="5.2" text-anchor="middle" fill="#000" stroke="#000" stroke-width="0.25">8</text>
<text x="388.80" y="531.90" font-size="5.2" text-anchor="middle" fill="#000" stroke="#000" stroke-width="0.25">9</text>
<text x="401.20" y="531.90" font-size="5.2" text-anchor="middle" fill="#000" stroke="#000" stroke-width="0.25">10</text>
<text x="413.30" y="531.90" font-size="5.2" text-anchor="middle" fill="#000" stroke="#000" stroke-width="0.25">11</text>
<text x="426.10" y="531.90" font-size="5.2" text-anchor="middle" fill="#000" stroke="#000" stroke-width="0.25">12</text>
<text x="444.90" y="531.90" font-size="5.2" text-anchor="middle" fill="#000" stroke="#000" stroke-width="0.25">14</text>
<text x="461.80" y="531.90" font-size="5.2" text-anchor="middle" fill="#000" stroke="#000" stroke-width="0.25">16</text>
<text x="478.60" y="531.90" font-size="5.2" text-anchor="middle" fill="#000" stroke="#000" stroke-width="0.25">18</text>
<text x="492.10" y="531.90" font-size="5.2" text-anchor="middle" fill="#000" stroke="#000" stroke-width="0.25">20</text>
<text x="511.50" y="531.90" font-size="5.2" text-anchor="middle" fill="#000" stroke="#000" stroke-width="0.25">23</text>
<text x="387.10" y="546.30" font-size="9.4" text-anchor="middle" fill="#000" stroke="#000" stroke-width="0.25">Chromosomes</text>
</svg>
</body></html>
